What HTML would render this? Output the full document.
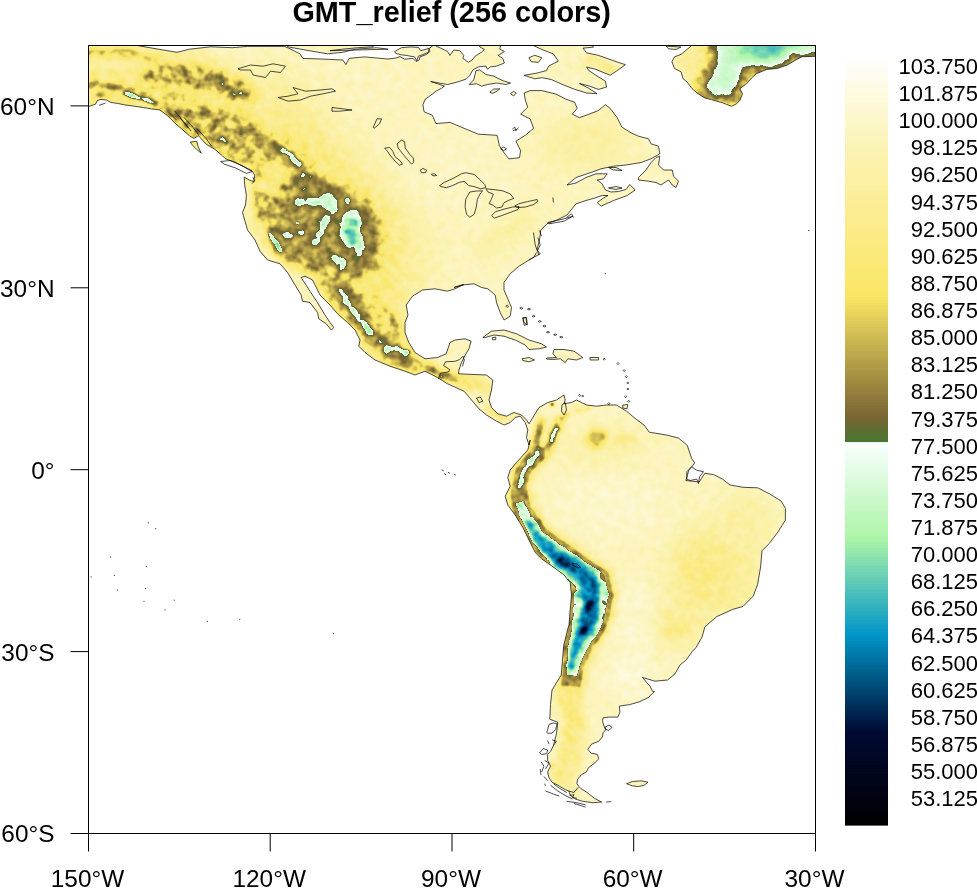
<!DOCTYPE html>
<html><head><meta charset="utf-8"><title>GMT_relief (256 colors)</title>
<style>
html,body{margin:0;padding:0;background:#fff;}
body{width:977px;height:888px;overflow:hidden;}
svg{display:block;font-family:"Liberation Sans",Arial,Helvetica,sans-serif;}
.ttl{font-weight:bold;font-size:28.8px;}
.cbl{font-size:22px;}
.axl{font-size:24.4px;}
.coast{fill:none;stroke:#000;stroke-width:0.7;stroke-linejoin:round;}
.lake{fill:none;stroke:#000;stroke-width:0.7;stroke-linejoin:round;}
</style></head><body>
<svg width="977" height="888" viewBox="0 0 977 888">
<defs>
<clipPath id="frame"><rect x="88.5" y="45.5" width="727.0" height="788.0"/></clipPath>
<clipPath id="land"><path d="M80,40 L137,40 L137.1,45.5 L158.6,49.2 L177,52.3 L189.3,49.2 L210.8,46.8 L232.3,47.7 L247.7,46.4 L284.5,46.4 L287.6,47.7 L299.9,53.8 L302.9,58.4 L321.3,59 L342.8,60 L345.9,64.6 L349,58.4 L364.3,56.9 L388,59 L395.4,58.1 L400,56.6 L404.6,59.2 L413,58.4 L416.1,61.5 L419.2,60 L419.9,56.9 L426.1,54.6 L429.9,51.5 L429.1,48.4 L432.2,46.4 L432.2,41.5 L436,41.5 L436,46.1 L441.4,48.4 L447.6,51.5 L449.9,55.4 L453.7,50 L459.8,50.7 L463.7,55.4 L462.9,58.4 L468.3,62.3 L472.1,60 L475.2,56.1 L481.3,52.3 L484.4,49.5 L479.8,46.9 L479,41.5 L501.3,41.5 L499.8,49.2 L504.4,51.5 L498.2,55.4 L502.8,58.4 L504.4,63 L496.7,66.1 L490.5,66.9 L487.5,69.2 L485.9,66.1 L478.3,66.9 L472.9,69.9 L469.8,75.3 L466,79.2 L456.8,82.2 L447.6,84.5 L430.7,81.5 L444.5,86.1 L441.4,88.4 L436.8,90.7 L430.7,95.3 L425.3,99.1 L422.9,104.7 L424.1,111.8 L432.4,115.3 L435.9,123.6 L450,122.4 L464.1,128.3 L478.3,134.2 L497.1,135.3 L499.5,145.9 L504.2,153 L508.9,158.9 L519.5,157.7 L520.6,150.6 L515.9,141.2 L525.3,135.3 L533.6,128.3 L530.1,118.9 L520.6,114.2 L527.7,107.1 L525.3,100 L524.2,93 L530.1,90.6 L541.8,90.6 L556,94.1 L565.4,98.9 L574.8,102.4 L577.1,108.3 L572.4,114.2 L579.5,117.7 L588.9,114.2 L598.3,110.6 L605.4,104.7 L610.1,108.3 L617.2,117.7 L621.9,127.1 L631.3,133 L638.5,136.2 L648.5,138.8 L651,143.8 L658.5,146.2 L659.8,153.8 L651,158.8 L641,162.5 L626,165 L613.5,166.2 L601,168.8 L591,172.5 L576,177.5 L567,185 L576,183 L586,177.5 L596,173.8 L607.2,173.8 L603.5,178.8 L597.2,180 L602.2,183.8 L605.5,190 L611,192 L618.5,191.5 L626,189.5 L629.8,184.5 L635.2,190 L627.2,195.5 L613.5,200.5 L601,206.2 L597.2,202.5 L603.5,198 L608,195.5 L602.2,195.5 L594.8,198 L586,200.5 L576,203.8 L567,215 L557,220 L547,223.8 L540.8,230 L539.5,240 L537,250 L540.2,253.8 L529,260 L519,266.2 L510.2,273.8 L504,282.5 L504,290 L507.8,298.8 L511.5,307.5 L510.2,316.2 L504,320 L500.2,312.5 L496.5,302.5 L495.2,295 L487.8,288.8 L481.5,287.5 L474,283.8 L461.5,285 L454,287.5 L463.8,284.5 L455,288.8 L447.5,291.2 L435,288.8 L422.5,290 L412.5,296.2 L406.2,305 L408,315 L405,322.5 L405,332.5 L408.8,342.5 L415,352.5 L425,358.8 L437.5,357.5 L446.2,353.8 L450,342.5 L455,340 L465,338.8 L471.2,341.2 L471,341.2 L469,348.8 L465.2,355 L461.5,362.5 L459,370 L458.5,373.8 L474,374.5 L486.5,375 L492.8,380 L491.5,390 L489,400 L491.5,407.5 L497.8,413.8 L506.5,416.2 L514,412.5 L521.5,415 L526.5,420 L529,423.8 L532.8,417.5 L539,407.5 L547.8,402.5 L556.5,400 L564,395 L565.2,400 L564,403.8 L571.5,402.5 L576.5,400 L586.5,405 L596.5,406.2 L606.5,405 L616.5,405 L626.5,411.2 L634,417.5 L644,425 L649.3,432.2 L666.9,435.1 L678.6,438.1 L687.3,445.4 L691.7,458.6 L694.7,463 L688.8,470.3 L685.9,480.5 L699.1,482 L704.9,473.2 L713.7,474.7 L722.5,479.1 L729.8,484.9 L743,487.3 L757.6,487.8 L769.3,493.7 L781.1,501 L785.4,508.3 L785.4,520.1 L778.1,531.8 L769.3,543.5 L762,550.8 L760.6,566.9 L757.6,584.5 L753.2,596.2 L743,606.4 L732.7,609.4 L716.6,616.7 L704.9,626.9 L702,637.2 L696.1,647.4 L692.5,651.2 L686.2,660 L680,665 L675,673.8 L667.5,680 L655,681.2 L642.5,677.5 L650,686.2 L652.5,691.2 L654.5,691.5 L648.6,697.3 L639.8,701.7 L629.6,704.6 L619.3,706.1 L620,712 L617.8,717.1 L609.1,717.1 L603.2,717.8 L602.5,720.7 L603.9,725.9 L606.1,729.5 L603.2,732.5 L602.5,736.9 L598.8,741.2 L591.5,744.2 L587.8,749.3 L590.8,753 L597.3,754.4 L598.8,758.8 L594.4,763.2 L588.6,767.6 L586.4,772 L581.2,774.9 L577.6,779.3 L576.9,783.7 L579,786.6 L581.2,788.8 L587.1,792.5 L594.4,798.3 L601.7,802 L593,802.7 L582.7,801.3 L575.4,799.1 L570.3,795.4 L568.8,791 L565.1,789.6 L557.8,785.2 L552,782.2 L549,777.8 L547.6,772 L550.5,766.1 L547.6,760.3 L547.6,754.4 L550.5,751.5 L553.4,745.6 L556.4,733.9 L557.8,722.2 L549.8,719.3 L550.5,704.6 L552,690 L561.2,675 L562.5,660 L563.8,645 L567.5,630 L569,625 L570.2,610 L571.5,595 L570.2,582.5 L564,575 L554,567.5 L541.5,558.8 L535.2,552.5 L529,540 L522.8,527.5 L515.2,515 L507.8,505 L505.2,496.2 L510.2,486.2 L507.8,477.5 L510.2,470 L516.5,462.5 L527.8,450 L530.2,440 L529,445 L526.5,437.5 L527.8,430 L525.2,422.5 L520.2,416.2 L515.2,417.5 L510.2,422.5 L504,425 L496.5,421.2 L486.5,415 L479,408.8 L471.5,400 L464,391.2 L447.5,383.8 L437.5,377.5 L425,371.2 L415,375 L405,371.2 L390,366.2 L375,360 L365,352.5 L358.8,346.2 L360,340 L355,330 L347.5,322.5 L337.5,313.8 L330,305 L320,295 L312.5,280 L305,276.2 L301.2,277.5 L310,291.2 L317.5,302.5 L325,315 L330,322.5 L333.8,327.5 L331.2,330 L326.2,323.8 L318.8,318.8 L317.5,312.5 L310,302.5 L302.5,301.2 L301.2,295 L295,285 L287.5,272.5 L280,263.8 L267.5,260 L260,251.2 L255,240 L247.5,230 L242.5,212.5 L245.5,204.9 L246.4,195.5 L244.6,184.5 L244.2,177.1 L249.2,179.9 L253.8,181.7 L254.7,175.3 L252,170.7 L244.6,167 L235.4,162.4 L225.3,158.7 L222.5,155.9 L215.1,149.5 L205.9,144 L198.5,135.7 L193.9,138.4 L189.3,135.7 L182,129.2 L174.6,122.8 L167.2,115.4 L159.8,109.9 L151.6,108.9 L143.3,107.5 L134.1,106.2 L124.8,104.9 L117.5,103.4 L111,102.5 L106.4,100.1 L100.9,99.4 L97.2,100.7 L95.4,104.3 L88,106.7 L69.6,106.7 L69.6,29.7Z"/><path d="M287.6,40 L287.6,46.8 L309.1,50.7 L327.5,53.8 L342.8,52.3 L355.1,49.2 L376.6,47.7 L388,49.2 L330,50.7 L342.3,49.2 L357.6,47.7 L373,46.8 L379.1,40ZM394.6,51.5 L401.5,47.7 L410.7,46.9 L418.4,47.4 L420.7,50.7 L426.1,49.2 L429.1,48.4 L428.4,52.3 L423,54.6 L418.4,56.1 L416.8,60.7 L414.5,56.9 L406.1,55.4 L400,54.6 L395.4,53.1ZM469.1,84.5 L473.7,79.9 L476,70.7 L479.8,69.9 L485.9,74.5 L493.6,76.1 L502.8,80.7 L510.5,83 L505.9,84.5 L496.7,83 L487.5,84.5 L481.3,86.1 L476.7,83.8ZM489.8,92.2 L493.6,89.1 L499.8,88.8 L496.7,91.4 L492.1,93.4ZM510.5,93.7 L513.6,91.4 L516.3,93 L513.6,96ZM532.4,42.4 L532.4,45.2 L541.8,49.4 L553.6,54.1 L558.3,61.2 L548.9,65.9 L546.5,70.6 L537.1,73 L524.2,75.3 L534.8,78.8 L541.8,77.7 L551.2,79.5 L563,84.7 L574.8,89.4 L586.6,93 L597.1,93.7 L588.9,88.3 L579.5,83.5 L588.9,85.9 L598.3,89.4 L606.6,87.1 L605.4,81.2 L596,75.3 L588.9,70.6 L586.6,67.1 L596,69.4 L610.1,75.3 L617.2,70.6 L625.4,64.7 L614.8,61.2 L598.3,55.3 L586.6,52.9 L583,48.2 L593.6,47.1 L588.9,42.4ZM528.9,57.7 L534.8,55.3 L541.8,57.7 L538.3,62.4 L531.2,61.7ZM692.1,40 L691.3,45.9 L686.2,50.1 L681.2,54.3 L674.5,56.8 L671.9,61.8 L674.5,68.5 L681.2,71.9 L682.9,78.6 L687.1,82 L692.1,88.7 L698,93.7 L704.7,97.9 L711.4,99.6 L723.1,103 L731.5,106.3 L736.6,103.8 L739.9,100.4 L742.5,93.7 L739.9,88.7 L746.6,83.6 L751.7,77.8 L756.7,73.6 L766.8,69.4 L776.9,68.5 L786.9,65.2 L797,59.3 L802,56.8 L822.2,55.9 L822.2,40ZM666,46.2 L681,47 L676,49.5 L668.5,48.8ZM638.5,177.5 L646,170 L651,162.5 L656,157.5 L659.8,156.2 L658.5,165 L663.5,170 L672.2,170 L673.5,176.2 L678.5,181.2 L676,187.5 L672.2,185 L668.5,180 L661,185 L656,182.5 L648.5,181.2 L638.5,180ZM608.5,167.5 L616,167.5 L622.2,170.5 L613.5,170ZM608.5,188 L616,186.5 L622.2,188 L616,189.5ZM482.8,337.5 L491.5,331.2 L504,330 L516.5,333.8 L529,340 L541.5,343.8 L546.5,347 L539,348.8 L529,349.5 L525.2,345 L515.2,340 L504,336.2 L494,335 L485.2,337.5ZM522,358.8 L529,357.5 L534.5,360 L529,361.8 L522.8,360.5ZM546.5,358 L556.5,357.5 L552.8,353.8 L554,349.5 L564,349.5 L574,351.2 L582.8,357.5 L576.5,360 L567.8,358.8 L565.2,362.5 L560.2,358.8 L552.8,359.5 L546.5,359ZM589.8,357.5 L598.5,357.5 L598.5,360 L590.2,360ZM522.8,317.5 L526.5,317.5 L527.2,325 L524,322.5ZM622.8,405 L627.8,404.5 L627,408.8 L622.8,408ZM626.6,783.7 L632.5,781.5 L641.3,780.8 L647.9,782.2 L644.2,785.2 L638.3,786.6 L632.5,785.9ZM190.2,142.1 L196.7,141.2 L198.5,147.6 L201.3,153.2 L196.7,149.5 L193,145.8Z"/></clipPath>
<filter id="cm" x="0" y="0" width="977" height="888" filterUnits="userSpaceOnUse" color-interpolation-filters="sRGB">
<feColorMatrix in="SourceGraphic" type="matrix" values="1 0 0 0 0 1 0 0 0 0 1 0 0 0 0 0 0 0 0 1" result="F"/>
<feColorMatrix in="SourceGraphic" type="matrix" values="0 1 0 0 0 0 1 0 0 0 0 1 0 0 0 0 0 0 0 1" result="A"/>
<feTurbulence type="fractalNoise" baseFrequency="0.11" numOctaves="2" seed="7" result="t"/>
<feColorMatrix in="t" type="matrix" values="1 0 0 0 0 1 0 0 0 0 1 0 0 0 0 0 0 0 0 1" result="N"/>
<feComposite in="A" in2="N" operator="arithmetic" k1="1" k2="-0.5" k3="0" k4="0.5" result="D"/>
<feComposite in="F" in2="D" operator="arithmetic" k1="0" k2="1" k3="1" k4="-0.5"/>
<feComponentTransfer>
<feFuncR type="table" tableValues="0.000 0.000 0.000 0.000 0.000 0.000 0.000 0.000 0.000 0.000 0.000 0.000 0.000 0.000 0.000 0.000 0.000 0.000 0.000 0.000 0.000 0.000 0.000 0.000 0.000 0.000 0.000 0.000 0.000 0.000 0.000 0.000 0.000 0.000 0.000 0.000 0.000 0.000 0.000 0.000 0.000 0.000 0.000 0.000 0.000 0.000 0.000 0.000 0.000 0.000 0.000 0.000 0.000 0.000 0.000 0.000 0.000 0.000 0.000 0.000 0.000 0.000 0.000 0.000 0.000 0.021 0.042 0.063 0.084 0.105 0.126 0.148 0.169 0.190 0.211 0.232 0.253 0.274 0.295 0.316 0.337 0.358 0.379 0.400 0.422 0.443 0.464 0.485 0.506 0.527 0.548 0.569 0.590 0.611 0.632 0.653 0.675 0.684 0.694 0.703 0.713 0.722 0.732 0.741 0.751 0.761 0.770 0.780 0.789 0.799 0.808 0.818 0.827 0.837 0.847 0.856 0.866 0.875 0.885 0.894 0.904 0.913 0.923 0.933 0.942 0.952 0.961 0.971 0.980 0.299 0.324 0.348 0.373 0.397 0.422 0.446 0.471 0.483 0.496 0.509 0.522 0.534 0.547 0.560 0.573 0.585 0.598 0.611 0.624 0.636 0.649 0.662 0.675 0.687 0.700 0.713 0.725 0.738 0.751 0.764 0.776 0.789 0.802 0.815 0.827 0.840 0.853 0.866 0.878 0.891 0.904 0.917 0.929 0.942 0.955 0.968 0.980 0.980 0.980 0.980 0.980 0.980 0.980 0.980 0.980 0.980 0.980 0.980 0.980 0.980 0.980 0.980 0.980 0.981 0.981 0.982 0.982 0.983 0.983 0.984 0.984 0.985 0.985 0.986 0.986 0.987 0.987 0.988 0.988 0.988 0.988 0.988 0.988 0.988 0.988 0.988 0.988 0.988 0.988 0.988 0.988 0.988 0.988 0.988 0.988 0.988 0.989 0.989 0.989 0.989 0.990 0.990 0.990 0.990 0.991 0.991 0.991 0.991 0.992 0.992 0.992 0.993 0.993 0.994 0.994 0.995 0.995 0.996 0.996 0.997 0.997 0.998 0.998 0.999 0.999 1.000 1.000"/>
<feFuncG type="table" tableValues="0.000 0.001 0.002 0.004 0.005 0.006 0.007 0.009 0.010 0.011 0.012 0.013 0.015 0.016 0.017 0.018 0.020 0.021 0.022 0.023 0.025 0.026 0.027 0.028 0.029 0.031 0.032 0.033 0.034 0.036 0.037 0.038 0.039 0.056 0.074 0.091 0.108 0.125 0.142 0.159 0.176 0.194 0.211 0.228 0.245 0.262 0.279 0.297 0.314 0.331 0.348 0.365 0.382 0.400 0.417 0.434 0.451 0.468 0.485 0.502 0.520 0.537 0.554 0.571 0.588 0.600 0.611 0.623 0.634 0.646 0.657 0.669 0.680 0.692 0.703 0.715 0.726 0.738 0.750 0.761 0.773 0.784 0.796 0.808 0.820 0.831 0.843 0.855 0.867 0.878 0.890 0.902 0.914 0.925 0.937 0.949 0.961 0.962 0.963 0.964 0.966 0.967 0.968 0.969 0.971 0.972 0.973 0.974 0.975 0.977 0.978 0.979 0.980 0.982 0.983 0.984 0.985 0.987 0.988 0.989 0.990 0.991 0.993 0.994 0.995 0.996 0.998 0.999 1.000 0.461 0.451 0.441 0.431 0.422 0.412 0.402 0.392 0.405 0.418 0.430 0.443 0.456 0.469 0.481 0.494 0.507 0.520 0.532 0.545 0.558 0.571 0.583 0.596 0.609 0.622 0.634 0.647 0.660 0.673 0.685 0.698 0.711 0.724 0.736 0.749 0.762 0.775 0.787 0.800 0.813 0.825 0.838 0.851 0.864 0.876 0.889 0.902 0.903 0.904 0.905 0.906 0.907 0.908 0.909 0.910 0.911 0.912 0.913 0.914 0.915 0.916 0.917 0.918 0.919 0.920 0.921 0.922 0.923 0.924 0.925 0.925 0.926 0.927 0.928 0.929 0.930 0.931 0.932 0.933 0.935 0.936 0.937 0.938 0.939 0.941 0.942 0.943 0.944 0.946 0.947 0.948 0.949 0.950 0.952 0.953 0.954 0.956 0.957 0.959 0.960 0.962 0.963 0.965 0.966 0.968 0.969 0.971 0.972 0.974 0.975 0.976 0.978 0.979 0.981 0.982 0.984 0.985 0.987 0.988 0.990 0.991 0.993 0.994 0.996 0.997 0.999 1.000"/>
<feFuncB type="table" tableValues="0.000 0.006 0.012 0.018 0.025 0.031 0.037 0.043 0.049 0.055 0.061 0.067 0.074 0.080 0.086 0.092 0.098 0.104 0.110 0.116 0.123 0.129 0.135 0.141 0.147 0.153 0.159 0.165 0.172 0.178 0.184 0.190 0.196 0.214 0.233 0.251 0.270 0.288 0.306 0.325 0.343 0.362 0.380 0.398 0.417 0.435 0.453 0.472 0.490 0.509 0.527 0.545 0.564 0.582 0.600 0.619 0.637 0.656 0.674 0.692 0.711 0.729 0.748 0.766 0.784 0.780 0.776 0.773 0.769 0.765 0.761 0.757 0.753 0.749 0.745 0.741 0.737 0.733 0.729 0.725 0.722 0.718 0.714 0.710 0.706 0.702 0.698 0.694 0.690 0.686 0.682 0.678 0.675 0.671 0.667 0.663 0.659 0.669 0.680 0.690 0.701 0.712 0.722 0.733 0.743 0.754 0.764 0.775 0.785 0.796 0.806 0.817 0.827 0.838 0.849 0.860 0.871 0.881 0.892 0.903 0.914 0.925 0.935 0.946 0.957 0.968 0.978 0.989 1.000 0.196 0.196 0.196 0.196 0.196 0.196 0.196 0.196 0.201 0.206 0.211 0.216 0.221 0.225 0.230 0.235 0.240 0.245 0.250 0.255 0.260 0.265 0.270 0.275 0.279 0.284 0.289 0.294 0.299 0.304 0.309 0.314 0.319 0.324 0.328 0.333 0.338 0.343 0.348 0.353 0.358 0.363 0.368 0.373 0.377 0.382 0.387 0.392 0.399 0.405 0.411 0.418 0.424 0.430 0.437 0.443 0.450 0.456 0.462 0.469 0.475 0.481 0.488 0.494 0.500 0.507 0.513 0.520 0.526 0.532 0.539 0.545 0.551 0.558 0.564 0.571 0.577 0.583 0.590 0.596 0.602 0.608 0.614 0.621 0.627 0.633 0.639 0.645 0.651 0.657 0.663 0.670 0.676 0.682 0.688 0.694 0.704 0.713 0.723 0.732 0.742 0.751 0.761 0.771 0.780 0.790 0.799 0.809 0.818 0.828 0.838 0.847 0.857 0.866 0.876 0.885 0.895 0.904 0.914 0.924 0.933 0.943 0.952 0.962 0.971 0.981 0.990 1.000"/>
</feComponentTransfer>
</filter>
<filter id="b0_7" x="0" y="0" width="977" height="888" filterUnits="userSpaceOnUse" color-interpolation-filters="sRGB"><feGaussianBlur stdDeviation="0.7"/></filter>
<filter id="b0_8" x="0" y="0" width="977" height="888" filterUnits="userSpaceOnUse" color-interpolation-filters="sRGB"><feGaussianBlur stdDeviation="0.8"/></filter>
<filter id="b0_9" x="0" y="0" width="977" height="888" filterUnits="userSpaceOnUse" color-interpolation-filters="sRGB"><feGaussianBlur stdDeviation="0.9"/></filter>
<filter id="b1" x="0" y="0" width="977" height="888" filterUnits="userSpaceOnUse" color-interpolation-filters="sRGB"><feGaussianBlur stdDeviation="1"/></filter>
<filter id="b1_1" x="0" y="0" width="977" height="888" filterUnits="userSpaceOnUse" color-interpolation-filters="sRGB"><feGaussianBlur stdDeviation="1.1"/></filter>
<filter id="b1_2" x="0" y="0" width="977" height="888" filterUnits="userSpaceOnUse" color-interpolation-filters="sRGB"><feGaussianBlur stdDeviation="1.2"/></filter>
<filter id="b1_3" x="0" y="0" width="977" height="888" filterUnits="userSpaceOnUse" color-interpolation-filters="sRGB"><feGaussianBlur stdDeviation="1.3"/></filter>
<filter id="b1_4" x="0" y="0" width="977" height="888" filterUnits="userSpaceOnUse" color-interpolation-filters="sRGB"><feGaussianBlur stdDeviation="1.4"/></filter>
<filter id="b1_5" x="0" y="0" width="977" height="888" filterUnits="userSpaceOnUse" color-interpolation-filters="sRGB"><feGaussianBlur stdDeviation="1.5"/></filter>
<filter id="b1_6" x="0" y="0" width="977" height="888" filterUnits="userSpaceOnUse" color-interpolation-filters="sRGB"><feGaussianBlur stdDeviation="1.6"/></filter>
<filter id="b1_8" x="0" y="0" width="977" height="888" filterUnits="userSpaceOnUse" color-interpolation-filters="sRGB"><feGaussianBlur stdDeviation="1.8"/></filter>
<filter id="b2" x="0" y="0" width="977" height="888" filterUnits="userSpaceOnUse" color-interpolation-filters="sRGB"><feGaussianBlur stdDeviation="2"/></filter>
<filter id="b2_2" x="0" y="0" width="977" height="888" filterUnits="userSpaceOnUse" color-interpolation-filters="sRGB"><feGaussianBlur stdDeviation="2.2"/></filter>
<filter id="b2_5" x="0" y="0" width="977" height="888" filterUnits="userSpaceOnUse" color-interpolation-filters="sRGB"><feGaussianBlur stdDeviation="2.5"/></filter>
<filter id="b2_8" x="0" y="0" width="977" height="888" filterUnits="userSpaceOnUse" color-interpolation-filters="sRGB"><feGaussianBlur stdDeviation="2.8"/></filter>
<filter id="b3" x="0" y="0" width="977" height="888" filterUnits="userSpaceOnUse" color-interpolation-filters="sRGB"><feGaussianBlur stdDeviation="3"/></filter>
<filter id="b3_5" x="0" y="0" width="977" height="888" filterUnits="userSpaceOnUse" color-interpolation-filters="sRGB"><feGaussianBlur stdDeviation="3.5"/></filter>
<filter id="b4" x="0" y="0" width="977" height="888" filterUnits="userSpaceOnUse" color-interpolation-filters="sRGB"><feGaussianBlur stdDeviation="4"/></filter>
<filter id="b4_5" x="0" y="0" width="977" height="888" filterUnits="userSpaceOnUse" color-interpolation-filters="sRGB"><feGaussianBlur stdDeviation="4.5"/></filter>
<filter id="b5" x="0" y="0" width="977" height="888" filterUnits="userSpaceOnUse" color-interpolation-filters="sRGB"><feGaussianBlur stdDeviation="5"/></filter>
<filter id="b6" x="0" y="0" width="977" height="888" filterUnits="userSpaceOnUse" color-interpolation-filters="sRGB"><feGaussianBlur stdDeviation="6"/></filter>
<filter id="b7" x="0" y="0" width="977" height="888" filterUnits="userSpaceOnUse" color-interpolation-filters="sRGB"><feGaussianBlur stdDeviation="7"/></filter>
<filter id="b8" x="0" y="0" width="977" height="888" filterUnits="userSpaceOnUse" color-interpolation-filters="sRGB"><feGaussianBlur stdDeviation="8"/></filter>
<filter id="b9" x="0" y="0" width="977" height="888" filterUnits="userSpaceOnUse" color-interpolation-filters="sRGB"><feGaussianBlur stdDeviation="9"/></filter>
<filter id="b10" x="0" y="0" width="977" height="888" filterUnits="userSpaceOnUse" color-interpolation-filters="sRGB"><feGaussianBlur stdDeviation="10"/></filter>
<filter id="b12" x="0" y="0" width="977" height="888" filterUnits="userSpaceOnUse" color-interpolation-filters="sRGB"><feGaussianBlur stdDeviation="12"/></filter>
<filter id="b15" x="0" y="0" width="977" height="888" filterUnits="userSpaceOnUse" color-interpolation-filters="sRGB"><feGaussianBlur stdDeviation="15"/></filter>
<filter id="b16" x="0" y="0" width="977" height="888" filterUnits="userSpaceOnUse" color-interpolation-filters="sRGB"><feGaussianBlur stdDeviation="16"/></filter>
<filter id="b20" x="0" y="0" width="977" height="888" filterUnits="userSpaceOnUse" color-interpolation-filters="sRGB"><feGaussianBlur stdDeviation="20"/></filter>
</defs>
<rect width="977" height="888" fill="#fff"/>
<text class="ttl" x="451.7" y="21.7" text-anchor="middle">GMT_relief (256 colors)</text>
<g clip-path="url(#frame)">
<g clip-path="url(#land)">
<g filter="url(#cm)">
<rect x="0" y="0" width="977" height="888" fill="#e41400"/>
<path d="M80,40 L140,40 L200,55 L250,80 L280,115 L305,150 L325,185 L300,200 L250,180 L200,150 L150,115 L80,115Z" fill="#c43200" opacity="1" filter="url(#b8)"/>
<path d="M275,110 L315,160 L350,190 L385,220 L392,270 L385,310" fill="none" stroke="#cf2300" stroke-width="70" stroke-linecap="round" stroke-linejoin="round" opacity="1" filter="url(#b16)"/>
<path d="M290,140 L330,185 L370,215 L378,260 L372,300" fill="none" stroke="#bd3e00" stroke-width="40" stroke-linecap="round" stroke-linejoin="round" opacity="1" filter="url(#b10)"/>
<path d="M86,53 L110,51 L135,54 L150,60" fill="none" stroke="#b24d00" stroke-width="7" stroke-linecap="round" stroke-linejoin="round" opacity="1" filter="url(#b2_2)"/>
<path d="M86,53 L105,51.5 L125,50.5 L140,53" fill="none" stroke="#9c4c00" stroke-width="3.5" stroke-linecap="round" stroke-linejoin="round" opacity="1" filter="url(#b1_2)"/>
<path d="M86,66 L120,64 L150,68" fill="none" stroke="#db1400" stroke-width="6" stroke-linecap="round" stroke-linejoin="round" opacity="1" filter="url(#b3)"/>
<path d="M92,86 L115,89 L140,94 L160,100 L180,106" fill="none" stroke="#ad6b00" stroke-width="10" stroke-linecap="round" stroke-linejoin="round" opacity="1" filter="url(#b3)"/>
<path d="M90,84 L112,86 L128,90" fill="none" stroke="#9d4700" stroke-width="5" stroke-linecap="round" stroke-linejoin="round" opacity="1" filter="url(#b1_8)"/>
<path d="M96,95 L108,97" fill="none" stroke="#9e6b00" stroke-width="4" stroke-linecap="round" stroke-linejoin="round" opacity="1" filter="url(#b1_5)"/>
<path d="M125,93 L140,98 L156,103" fill="none" stroke="#6e5c00" stroke-width="5" stroke-linecap="round" stroke-linejoin="round" opacity="1" filter="url(#b1_2)"/>
<path d="M151,76 L185,75 L215,80 L245,95" fill="none" stroke="#a86b00" stroke-width="24" stroke-linecap="round" stroke-linejoin="round" opacity="1" filter="url(#b4_5)"/>
<path d="M178,76 L203,80 L222,84 L240,92" fill="none" stroke="#946b00" stroke-width="12" stroke-linecap="round" stroke-linejoin="round" opacity="1" filter="url(#b3)"/>
<path d="M205,113 L230,118 L252,128" fill="none" stroke="#9e6b00" stroke-width="14" stroke-linecap="round" stroke-linejoin="round" opacity="1" filter="url(#b3_5)"/>
<path d="M212,115 L235,120" fill="none" stroke="#916b00" stroke-width="6" stroke-linecap="round" stroke-linejoin="round" opacity="1" filter="url(#b2)"/>
<path d="M168,110 L195,122 L225,140 L255,160" fill="none" stroke="#ad6b00" stroke-width="36" stroke-linecap="round" stroke-linejoin="round" opacity="1" filter="url(#b6)"/>
<path d="M175,112 L205,128 L232,145" fill="none" stroke="#9c6b00" stroke-width="12" stroke-linecap="round" stroke-linejoin="round" opacity="1" filter="url(#b3)"/>
<path d="M200,112 L225,128 L248,150" fill="none" stroke="#9c6b00" stroke-width="10" stroke-linecap="round" stroke-linejoin="round" opacity="1" filter="url(#b3)"/>
<path d="M252,132 L275,148 L297,165 L311,185" fill="none" stroke="#9c6b00" stroke-width="18" stroke-linecap="round" stroke-linejoin="round" opacity="1" filter="url(#b3_5)"/>
<path d="M268,143 L285,155 L299,166" fill="none" stroke="#8e3300" stroke-width="9" stroke-linecap="round" stroke-linejoin="round" opacity="1" filter="url(#b2)"/>
<path d="M284.5,151 L292,157 L300,163.5" fill="none" stroke="#6e5c00" stroke-width="4.5" stroke-linecap="round" stroke-linejoin="round" opacity="1" filter="url(#b1)"/>
<path d="M253,178 L256,195 L260,212" fill="none" stroke="#a86b00" stroke-width="7" stroke-linecap="round" stroke-linejoin="round" opacity="1" filter="url(#b2_5)"/>
<path d="M258,190 L300,176 L339,186 L374,203 L382,240 L378,268 L350,282 L318,278 L290,266 L268,250 L254,222Z" fill="#9f6b00" opacity="1" filter="url(#b6)"/>
<path d="M280,200 L300,184 L340,190 L370,210 L375,255 L352,272 L320,270 L290,256 L274,228Z" fill="#964500" opacity="1" filter="url(#b4)"/>
<path d="M297,182 L320,185 L339,195" fill="none" stroke="#8c2b00" stroke-width="12" stroke-linecap="round" stroke-linejoin="round" opacity="1" filter="url(#b2_5)"/>
<path d="M345,205 L366,215 L372,240 L368,262 L350,270" fill="none" stroke="#8c2b00" stroke-width="9" stroke-linecap="round" stroke-linejoin="round" opacity="1" filter="url(#b2_5)"/>
<path d="M325,215 L310,245" fill="none" stroke="#8e2b00" stroke-width="12" stroke-linecap="round" stroke-linejoin="round" opacity="1" filter="url(#b2_5)"/>
<path d="M298.6,202.1 L311.9,201.6 L322.1,200" fill="none" stroke="#8b2e00" stroke-width="14" stroke-linecap="round" stroke-linejoin="round" opacity="1" filter="url(#b2_2)"/>
<path d="M322.1,195.5 L330.3,193.9 L336.4,199.6 L337.5,211.9 L333.4,216 L328.3,211.9 L323.1,205.7Z" fill="#8a2e00" opacity="1" filter="url(#b3)"/>
<path d="M322.1,195.5 L330.3,193.9 L336.4,199.6 L337.5,211.9 L333.4,216 L328.3,211.9 L323.1,205.7 L322.1,195.5" fill="none" stroke="#8a2e00" stroke-width="8" stroke-linecap="round" stroke-linejoin="round" opacity="1" filter="url(#b2_2)"/>
<path d="M328.3,216 L323.1,228.3 L316,241.6" fill="none" stroke="#8b2e00" stroke-width="13" stroke-linecap="round" stroke-linejoin="round" opacity="1" filter="url(#b2_2)"/>
<path d="M341.6,216 L347.7,211.9 L356.9,210.9 L361,218 L361,232.4 L365.1,246.7 L359,254.9 L352.8,250.8 L344.6,244.6 L340.5,236.4 L342.6,226.2 L341.6,216" fill="none" stroke="#8a2e00" stroke-width="9" stroke-linecap="round" stroke-linejoin="round" opacity="1" filter="url(#b2_5)"/>
<path d="M332.4,257.9 L340.5,254.9 L346.7,261 L343.6,269.2 L336.4,267.2 L332.4,257.9" fill="none" stroke="#8b2e00" stroke-width="7" stroke-linecap="round" stroke-linejoin="round" opacity="1" filter="url(#b2)"/>
<path d="M269.9,235.4 L276.1,242.6 L280.2,250.4" fill="none" stroke="#8f3300" stroke-width="9" stroke-linecap="round" stroke-linejoin="round" opacity="1" filter="url(#b2)"/>
<ellipse cx="288.8" cy="235" rx="8" ry="5.5" fill="#8b2e00" opacity="1" filter="url(#b2_2)"/>
<ellipse cx="302" cy="233.5" rx="5" ry="4.5" fill="#8c2e00" opacity="1" filter="url(#b2)"/>
<path d="M298.6,202.1 L311.9,201.6 L322.1,200" fill="none" stroke="#735c00" stroke-width="6.5" stroke-linecap="round" stroke-linejoin="round" opacity="1" filter="url(#b1_1)"/>
<path d="M322.1,195.5 L330.3,193.9 L336.4,199.6 L337.5,211.9 L333.4,216 L328.3,211.9 L323.1,205.7Z" fill="#705c00" opacity="1" filter="url(#b1_2)"/>
<path d="M328.3,216 L323.1,228.3 L316,241.6" fill="none" stroke="#735c00" stroke-width="5.5" stroke-linecap="round" stroke-linejoin="round" opacity="1" filter="url(#b1_1)"/>
<path d="M341.6,216 L347.7,211.9 L356.9,210.9 L361,218 L361,232.4 L365.1,246.7 L359,254.9 L352.8,250.8 L344.6,244.6 L340.5,236.4 L342.6,226.2Z" fill="#755c00" opacity="1" filter="url(#b1_3)"/>
<path d="M344.6,220.1 L352.8,216 L357.9,222.1 L358.6,236.4 L361,246.7 L355.9,249.8 L348.7,242.6 L344.6,232.4Z" fill="#625c00" opacity="1" filter="url(#b1_6)"/>
<ellipse cx="351.8" cy="235.4" rx="4.5" ry="8.5" fill="#4f2600" opacity="1" transform="rotate(-20 351.8 235.4)" filter="url(#b1_6)"/>
<path d="M332.4,257.9 L340.5,254.9 L346.7,261 L343.6,269.2 L336.4,267.2Z" fill="#705c00" opacity="1" filter="url(#b1_1)"/>
<path d="M269.9,235.4 L276.1,242.6 L280.2,250.4" fill="none" stroke="#6e5c00" stroke-width="4" stroke-linecap="round" stroke-linejoin="round" opacity="1" filter="url(#b1_0)"/>
<ellipse cx="288.8" cy="235" rx="4.5" ry="2.2" fill="#735c00" opacity="1" filter="url(#b0_9)"/>
<ellipse cx="302" cy="233.4" rx="2.4" ry="1.8" fill="#735c00" opacity="1" filter="url(#b0_8)"/>
<ellipse cx="346.7" cy="201.6" rx="2.5" ry="3.5" fill="#705c00" opacity="1" filter="url(#b0_9)"/>
<ellipse cx="297.5" cy="223" rx="1.3" ry="1.3" fill="#735c00" opacity="1" filter="url(#b0_7)"/>
<path d="M246,190 L247,225 L258,245" fill="none" stroke="#db1400" stroke-width="6" stroke-linecap="round" stroke-linejoin="round" opacity="1" filter="url(#b2_5)"/>
<path d="M258,222 L266,238" fill="none" stroke="#e01400" stroke-width="4" stroke-linecap="round" stroke-linejoin="round" opacity="1" filter="url(#b2)"/>
<path d="M262,185 L275,192" fill="none" stroke="#cc2700" stroke-width="8" stroke-linecap="round" stroke-linejoin="round" opacity="1" filter="url(#b3)"/>
<path d="M332,282 L352,308 L375,335 L398,356" fill="none" stroke="#a36b00" stroke-width="30" stroke-linecap="round" stroke-linejoin="round" opacity="1" filter="url(#b6)"/>
<path d="M340,288 L358,312 L376,336" fill="none" stroke="#8c2e00" stroke-width="15" stroke-linecap="round" stroke-linejoin="round" opacity="1" filter="url(#b3)"/>
<path d="M341,291 L350,305 L362,322 L372,334" fill="none" stroke="#6e5c00" stroke-width="5" stroke-linecap="round" stroke-linejoin="round" opacity="1" filter="url(#b1_3)"/>
<path d="M365,300 L385,305 L402,325 L405,345 L385,342 L372,325Z" fill="#b06b00" opacity="1" filter="url(#b4)"/>
<path d="M390,315 L398,332" fill="none" stroke="#996b00" stroke-width="5" stroke-linecap="round" stroke-linejoin="round" opacity="1" filter="url(#b2)"/>
<path d="M378,338 L395,352 L412,364" fill="none" stroke="#8f4000" stroke-width="15" stroke-linecap="round" stroke-linejoin="round" opacity="1" filter="url(#b3)"/>
<path d="M387,350 L398,349 L407,353" fill="none" stroke="#6e5c00" stroke-width="5" stroke-linecap="round" stroke-linejoin="round" opacity="1" filter="url(#b1_3)"/>
<path d="M418,366 L430.7,369 L446,376 L467.5,384" fill="none" stroke="#a86b00" stroke-width="12" stroke-linecap="round" stroke-linejoin="round" opacity="1" filter="url(#b3)"/>
<path d="M428,368 L440,374 L452,379" fill="none" stroke="#964700" stroke-width="6" stroke-linecap="round" stroke-linejoin="round" opacity="1" filter="url(#b1_8)"/>
<ellipse cx="441.4" cy="376.7" rx="1.8" ry="1.5" fill="#735c00" opacity="1" filter="url(#b0_8)"/>
<path d="M467,378 L480,384 L489,390" fill="none" stroke="#c23600" stroke-width="14" stroke-linecap="round" stroke-linejoin="round" opacity="1" filter="url(#b4)"/>
<path d="M489,409 L496,414 L503,418" fill="none" stroke="#ad6b00" stroke-width="5" stroke-linecap="round" stroke-linejoin="round" opacity="1" filter="url(#b2)"/>
<path d="M509,420 L520,417" fill="none" stroke="#c23600" stroke-width="4" stroke-linecap="round" stroke-linejoin="round" opacity="1" filter="url(#b2)"/>
<path d="M480,250 L505,235 L530,215" fill="none" stroke="#d41c00" stroke-width="16" stroke-linecap="round" stroke-linejoin="round" opacity="1" filter="url(#b7)"/>
<path d="M560,150 L610,140" fill="none" stroke="#d91400" stroke-width="40" stroke-linecap="round" stroke-linejoin="round" opacity="1" filter="url(#b12)"/>
<ellipse cx="587" cy="142" rx="34" ry="20" fill="#d51a00" opacity="1" filter="url(#b9)"/>
<path d="M590,60 L615,75" fill="none" stroke="#c72f00" stroke-width="12" stroke-linecap="round" stroke-linejoin="round" opacity="1" filter="url(#b5)"/>
<ellipse cx="450" cy="170" rx="60" ry="40" fill="#e61400" opacity="1" filter="url(#b20)"/>
<path d="M686,40 L676,60 L686,77.5 L701,92.5 L716,102.5 L736,105 L746,90 L751,77.5 L776,67.5 L801,58.8 L819.8,55 L819.8,40Z" fill="#d12000" opacity="1" filter="url(#b3)"/>
<path d="M717.3,40 L718.1,56.8 L719,62.7 L713.9,70.2 L711.4,78.6 L706.4,86.2 L709.7,90.4 L716.4,93.7 L726.5,95.4 L731.5,94.6 L729.9,90.4 L736.6,85.3 L738.3,76.9 L739.9,71.9 L743.3,66 L750,64.8 L760.1,65.2 L773.5,65.2 L781.1,63.5 L785.3,58.5 L788.6,54.3 L792,50.9 L798.7,53.4 L802,55.1 L807.1,52.6 L822.2,52.6" fill="none" stroke="#b06b00" stroke-width="28" stroke-linecap="round" stroke-linejoin="round" opacity="1" filter="url(#b4_5)"/>
<path d="M717.3,40 L718.1,56.8 L719,62.7 L713.9,70.2 L711.4,78.6 L706.4,86.2 L709.7,90.4 L716.4,93.7 L726.5,95.4 L731.5,94.6 L729.9,90.4 L736.6,85.3 L738.3,76.9 L739.9,71.9 L743.3,66 L750,64.8 L760.1,65.2 L773.5,65.2 L781.1,63.5 L785.3,58.5 L788.6,54.3 L792,50.9 L798.7,53.4 L802,55.1 L807.1,52.6 L822.2,52.6" fill="none" stroke="#954000" stroke-width="17" stroke-linecap="round" stroke-linejoin="round" opacity="1" filter="url(#b2_8)"/>
<path d="M717.3,40 L718.1,56.8 L719,62.7 L713.9,70.2 L711.4,78.6 L706.4,86.2 L709.7,90.4 L716.4,93.7 L726.5,95.4 L731.5,94.6 L729.9,90.4 L736.6,85.3 L738.3,76.9 L739.9,71.9 L743.3,66 L750,64.8 L760.1,65.2 L773.5,65.2 L781.1,63.5 L785.3,58.5 L788.6,54.3 L792,50.9 L798.7,53.4 L802,55.1 L807.1,52.6 L822.2,52.6" fill="none" stroke="#881a00" stroke-width="7" stroke-linecap="round" stroke-linejoin="round" opacity="1" filter="url(#b1_3)"/>
<path d="M717.3,40 L718.1,56.8 L719,62.7 L713.9,70.2 L711.4,78.6 L706.4,86.2 L709.7,90.4 L716.4,93.7 L726.5,95.4 L731.5,94.6 L729.9,90.4 L736.6,85.3 L738.3,76.9 L739.9,71.9 L743.3,66 L750,64.8 L760.1,65.2 L773.5,65.2 L781.1,63.5 L785.3,58.5 L788.6,54.3 L792,50.9 L798.7,53.4 L802,55.1 L807.1,52.6 L822.2,52.6 L822.2,40Z" fill="#781a00" filter="url(#b0_8)"/>
<path d="M723.1,40 L724,61.8 L719.8,71.9 L714.8,83.6 L718.1,88.7 L726.5,90.4 L731.5,83.6 L734.9,73.6 L739.9,63.5 L750,61 L773.5,61 L780.2,56.8 L786.9,48.4 L800.4,49.2 L822.2,48.4 L822.2,40Z" fill="#6b1400" filter="url(#b3)"/>
<path d="M734.9,40 L738.3,53.4 L750,59.3 L773.5,59.3 L783.6,53.4 L795.3,46.7 L807.1,45 L807.1,40Z" fill="#591400" filter="url(#b3_5)"/>
<path d="M750,40 L753.4,51.8 L770.2,55.9 L783.6,50.1 L790.3,40Z" fill="#501400" filter="url(#b3)"/>
<ellipse cx="610" cy="500" rx="55" ry="35" fill="#e91400" opacity="1" filter="url(#b15)"/>
<ellipse cx="715" cy="575" rx="45" ry="50" fill="#cc2700" opacity="1" transform="rotate(20 715 575)" filter="url(#b16)"/>
<ellipse cx="745" cy="520" rx="25" ry="25" fill="#d41c00" opacity="1" filter="url(#b10)"/>
<ellipse cx="700" cy="570" rx="20" ry="28" fill="#c33400" opacity="1" filter="url(#b8)"/>
<ellipse cx="677" cy="627" rx="20" ry="17" fill="#c63000" opacity="1" filter="url(#b8)"/>
<ellipse cx="632" cy="620" rx="20" ry="40" fill="#e91400" opacity="1" filter="url(#b10)"/>
<ellipse cx="600" cy="448" rx="45" ry="20" fill="#db1400" opacity="1" filter="url(#b9)"/>
<ellipse cx="596.5" cy="438" rx="12" ry="10" fill="#b84500" opacity="1" filter="url(#b3)"/>
<ellipse cx="596.5" cy="438" rx="9" ry="8" fill="#a12600" opacity="1" filter="url(#b2_2)"/>
<ellipse cx="625" cy="439" rx="12" ry="5" fill="#c23600" opacity="1" filter="url(#b4)"/>
<ellipse cx="632" cy="675" rx="22" ry="25" fill="#ed1400" opacity="1" filter="url(#b9)"/>
<path d="M568,700 L575,722 L572,760 L560,790" fill="none" stroke="#cc2700" stroke-width="20" stroke-linecap="round" stroke-linejoin="round" opacity="1" filter="url(#b5)"/>
<path d="M568,700 L571,722 L567,750 L558,775" fill="none" stroke="#be3c00" stroke-width="9" stroke-linecap="round" stroke-linejoin="round" opacity="1" filter="url(#b3)"/>
<path d="M572,712 L582,726" fill="none" stroke="#ba4100" stroke-width="9" stroke-linecap="round" stroke-linejoin="round" opacity="1" filter="url(#b3_5)"/>
<ellipse cx="553" cy="767" rx="3" ry="3" fill="#ad6b00" opacity="1" filter="url(#b1_5)"/>
<path d="M541,422 L539.7,427.4 L536.6,439.7 L533,452" fill="none" stroke="#a36b00" stroke-width="9" stroke-linecap="round" stroke-linejoin="round" opacity="1" filter="url(#b2_2)"/>
<path d="M540,428 L537,440 L534,450" fill="none" stroke="#8f2e00" stroke-width="5" stroke-linecap="round" stroke-linejoin="round" opacity="1" filter="url(#b1_5)"/>
<path d="M559,421 L558,424.3 L553.5,436.6 L547.4,448.9 L540,458" fill="none" stroke="#9e6b00" stroke-width="10" stroke-linecap="round" stroke-linejoin="round" opacity="1" filter="url(#b2_2)"/>
<path d="M557.5,426 L553.5,436.6 L548,447 L542,456" fill="none" stroke="#806b00" stroke-width="4.5" stroke-linecap="round" stroke-linejoin="round" opacity="1" filter="url(#b1_2)"/>
<path d="M556,430 L553,438 L548.5,446" fill="none" stroke="#735c00" stroke-width="2.6" stroke-linecap="round" stroke-linejoin="round" opacity="1" filter="url(#b0_8)"/>
<ellipse cx="552" cy="404.5" rx="2.5" ry="2.5" fill="#996b00" opacity="1" filter="url(#b1_2)"/>
<path d="M567.3,415 L559.7,422.8" fill="none" stroke="#9e6b00" stroke-width="5" stroke-linecap="round" stroke-linejoin="round" opacity="1" filter="url(#b1_8)"/>
<path d="M575,409 L590,408" fill="none" stroke="#bd3e00" stroke-width="4" stroke-linecap="round" stroke-linejoin="round" opacity="1" filter="url(#b2)"/>
<path d="M526.8,444.5 L525.7,449.9 L518.7,457.2 L511.2,471 L507.1,486.6 L507,498.1 L507.8,506.1 L511.7,519.8 L518.4,532.1 L524.8,546.2 L537.3,560.2 L547.2,574.4 L564.3,587.1 L569.9,595.5 L565.3,593 L565.2,601.8 L564.4,611.6 L564.2,620.6 L562.9,631.5 L559.2,645 L559.2,660.3 L558.1,673.2 L557.1,684.1 L556.1,695.1 L557.1,704.8 L578.9,707.2 L581.9,698.9 L584.9,687.9 L585.9,676.8 L588.8,665.7 L593.8,655 L599.1,646.1 L607,634.6 L612.4,621 L614.8,608.2 L617.3,594.6 L611.5,569.5 L589.7,554.9 L573.8,543.2 L561.5,535 L549.2,526.4 L543.6,517.9 L536.9,507.8 L532.8,498.9 L532,495.9 L530.9,489.4 L532.8,479 L537.3,470.8 L546.3,462.1 L549.2,449.5Z" fill="#c23600" stroke="#c23600" stroke-width="1" stroke-linejoin="round" filter="url(#b3_5)"/>
<path d="M530.7,445.4 L529.1,451.9 L522,459.6 L515,472.4 L511.1,487.1 L511,497.8 L511.6,505 L515.3,518.1 L521.9,530.2 L527.9,543.7 L540.1,557.4 L549.8,571.4 L566.8,584 L573.3,593.4 L569.3,593.1 L569.2,602.3 L568.3,612.4 L568,621.8 L566.6,633 L563.1,646.1 L563.2,661.1 L562.1,673.7 L561,685.1 L581,686.9 L581.9,676.3 L584.8,664.9 L589.9,653.9 L595.4,644.6 L603.2,633.4 L608.5,620.2 L610.8,607.7 L613.3,594.5 L608.1,571.6 L587.2,558 L571.2,546.2 L558.7,537.8 L546.1,528.9 L540.1,519.8 L533.3,509.5 L529,500 L528,496.2 L526.9,488.9 L529,477.6 L534,468.4 L542.9,460.1 L545.3,448.6Z" fill="#954000" stroke="#954000" stroke-width="1" stroke-linejoin="round" filter="url(#b1_3)"/>
<path d="M536.5,446.7 L534.3,455 L526.8,463.1 L520.6,474.5 L517.1,487.6 L520.9,488.4 L523.4,475.5 L529.2,464.9 L537.7,457 L539.5,447.3Z" fill="#755c00" stroke="#755c00" stroke-width="1" stroke-linejoin="round" filter="url(#b0_9)"/>
<path d="M516.8,503.8 L520,515.8 L526.4,527.6 L532,540.4 L543.7,553.6 L553.2,567.4 L570.1,579.9 L577.8,590.6 L574.6,593.3 L574.4,603 L573.4,613.4 L573,623.5 L571.5,634.9 L568.1,647.6 L568.3,662 L567.3,674.2 L576.7,675.8 L579.7,664 L584.9,652.4 L590.5,642.7 L598.2,631.7 L603.4,619.2 L605.6,607 L608,594.3 L603.6,574.4 L583.9,562.1 L567.8,550.2 L555.1,541.6 L542,532.2 L535.6,522.4 L528.6,511.8 L523.8,501.2Z" fill="#755c00" stroke="#755c00" stroke-width="1" stroke-linejoin="round" filter="url(#b1_0)"/>
<path d="M529.2,525.9 L534.5,538.4 L545.9,551.2 L555.3,564.9 L572.1,577.3 L580.5,588.9 L577.8,593.4 L577.6,603.4 L576.6,614 L576.1,624.5 L574.5,636.2 L571.2,648.5 L571.5,662.5 L576.5,663.5 L581.8,651.5 L587.5,641.4 L595.1,630.7 L600.2,618.6 L602.4,606.6 L604.8,594.2 L600.9,576.1 L581.9,564.7 L565.7,552.7 L552.9,544 L539.5,534.2 L532.8,524.1Z" fill="#695c00" stroke="#695c00" stroke-width="1" stroke-linejoin="round" filter="url(#b1_4)"/>
<path d="M525.3,521 L527.2,526.5 L532.5,539.2 L544,552.4 L555.3,565.9 L572.8,578.2 L578.9,587.3 L580.7,595.1 L582.7,604.1 L578.6,614.1 L577.1,624.3 L574.6,636.1 L570.5,648.5 L569,659.4 L569,668.7 L574,669.3 L576,660.6 L578.9,651.5 L585.4,641.5 L594.9,630.9 L598,618.5 L599.7,605.9 L600.5,592.5 L597.7,577.7 L585.2,563.8 L566.3,551.7 L552.8,542.8 L539.5,533.4 L532.4,523.5 L528.7,519Z" fill="#543300" stroke="#543300" stroke-width="1" stroke-linejoin="round" filter="url(#b1_5)"/>
<path d="M528.9,525.5 L534.1,537.9 L545.4,550.9 L556.5,564.4 L574.1,576.7 L580.7,586.4 L582.7,594.8 L584.7,604.3 L580.5,614.5 L579,625 L576.4,637 L572.3,649.2 L571,659.8 L571,668.9 L572,669.1 L574,660.2 L577.1,650.8 L583.6,640.6 L593,630.2 L596.1,618.1 L597.7,605.7 L598.5,592.8 L595.9,578.6 L583.9,565.3 L565.1,553.2 L551.4,544.3 L537.9,534.7 L530.7,524.5Z" fill="#423300" stroke="#423300" stroke-width="1" stroke-linejoin="round" filter="url(#b1_5)"/>
<path d="M547.4,548.7 L558.4,562 L576.1,574.4 L583.4,585 L585.6,594.4 L587.7,604.6 L583.4,615.2 L581.8,626 L579.1,638.3 L580.9,639.3 L590.2,629.2 L593.2,617.4 L594.7,605.4 L595.6,593.2 L593.2,580 L581.9,567.6 L563.2,555.6 L549.4,546.5Z" fill="#373300" stroke="#373300" stroke-width="1" stroke-linejoin="round" filter="url(#b1_8)"/>
<ellipse cx="562" cy="561" rx="6" ry="3.5" fill="#1f3300" opacity="1" transform="rotate(35 562 561)" filter="url(#b2)"/>
<ellipse cx="590.5" cy="606" rx="3.5" ry="6" fill="#1f3300" opacity="1" filter="url(#b2)"/>
<ellipse cx="584" cy="630" rx="3" ry="4" fill="#213300" opacity="1" transform="rotate(15 584 630)" filter="url(#b1_8)"/>
</g>
</g>
<path class="coast" d="M80,40 L137,40 L137.1,45.5 L158.6,49.2 L177,52.3 L189.3,49.2 L210.8,46.8 L232.3,47.7 L247.7,46.4 L284.5,46.4 L287.6,47.7 L299.9,53.8 L302.9,58.4 L321.3,59 L342.8,60 L345.9,64.6 L349,58.4 L364.3,56.9 L388,59 L395.4,58.1 L400,56.6 L404.6,59.2 L413,58.4 L416.1,61.5 L419.2,60 L419.9,56.9 L426.1,54.6 L429.9,51.5 L429.1,48.4 L432.2,46.4 L432.2,41.5 L436,41.5 L436,46.1 L441.4,48.4 L447.6,51.5 L449.9,55.4 L453.7,50 L459.8,50.7 L463.7,55.4 L462.9,58.4 L468.3,62.3 L472.1,60 L475.2,56.1 L481.3,52.3 L484.4,49.5 L479.8,46.9 L479,41.5 L501.3,41.5 L499.8,49.2 L504.4,51.5 L498.2,55.4 L502.8,58.4 L504.4,63 L496.7,66.1 L490.5,66.9 L487.5,69.2 L485.9,66.1 L478.3,66.9 L472.9,69.9 L469.8,75.3 L466,79.2 L456.8,82.2 L447.6,84.5 L430.7,81.5 L444.5,86.1 L441.4,88.4 L436.8,90.7 L430.7,95.3 L425.3,99.1 L422.9,104.7 L424.1,111.8 L432.4,115.3 L435.9,123.6 L450,122.4 L464.1,128.3 L478.3,134.2 L497.1,135.3 L499.5,145.9 L504.2,153 L508.9,158.9 L519.5,157.7 L520.6,150.6 L515.9,141.2 L525.3,135.3 L533.6,128.3 L530.1,118.9 L520.6,114.2 L527.7,107.1 L525.3,100 L524.2,93 L530.1,90.6 L541.8,90.6 L556,94.1 L565.4,98.9 L574.8,102.4 L577.1,108.3 L572.4,114.2 L579.5,117.7 L588.9,114.2 L598.3,110.6 L605.4,104.7 L610.1,108.3 L617.2,117.7 L621.9,127.1 L631.3,133 L638.5,136.2 L648.5,138.8 L651,143.8 L658.5,146.2 L659.8,153.8 L651,158.8 L641,162.5 L626,165 L613.5,166.2 L601,168.8 L591,172.5 L576,177.5 L567,185 L576,183 L586,177.5 L596,173.8 L607.2,173.8 L603.5,178.8 L597.2,180 L602.2,183.8 L605.5,190 L611,192 L618.5,191.5 L626,189.5 L629.8,184.5 L635.2,190 L627.2,195.5 L613.5,200.5 L601,206.2 L597.2,202.5 L603.5,198 L608,195.5 L602.2,195.5 L594.8,198 L586,200.5 L576,203.8 L567,215 L557,220 L547,223.8 L540.8,230 L539.5,240 L537,250 L540.2,253.8 L529,260 L519,266.2 L510.2,273.8 L504,282.5 L504,290 L507.8,298.8 L511.5,307.5 L510.2,316.2 L504,320 L500.2,312.5 L496.5,302.5 L495.2,295 L487.8,288.8 L481.5,287.5 L474,283.8 L461.5,285 L454,287.5 L463.8,284.5 L455,288.8 L447.5,291.2 L435,288.8 L422.5,290 L412.5,296.2 L406.2,305 L408,315 L405,322.5 L405,332.5 L408.8,342.5 L415,352.5 L425,358.8 L437.5,357.5 L446.2,353.8 L450,342.5 L455,340 L465,338.8 L471.2,341.2 L471,341.2 L469,348.8 L465.2,355 L461.5,362.5 L459,370 L458.5,373.8 L474,374.5 L486.5,375 L492.8,380 L491.5,390 L489,400 L491.5,407.5 L497.8,413.8 L506.5,416.2 L514,412.5 L521.5,415 L526.5,420 L529,423.8 L532.8,417.5 L539,407.5 L547.8,402.5 L556.5,400 L564,395 L565.2,400 L564,403.8 L571.5,402.5 L576.5,400 L586.5,405 L596.5,406.2 L606.5,405 L616.5,405 L626.5,411.2 L634,417.5 L644,425 L649.3,432.2 L666.9,435.1 L678.6,438.1 L687.3,445.4 L691.7,458.6 L694.7,463 L688.8,470.3 L685.9,480.5 L699.1,482 L704.9,473.2 L713.7,474.7 L722.5,479.1 L729.8,484.9 L743,487.3 L757.6,487.8 L769.3,493.7 L781.1,501 L785.4,508.3 L785.4,520.1 L778.1,531.8 L769.3,543.5 L762,550.8 L760.6,566.9 L757.6,584.5 L753.2,596.2 L743,606.4 L732.7,609.4 L716.6,616.7 L704.9,626.9 L702,637.2 L696.1,647.4 L692.5,651.2 L686.2,660 L680,665 L675,673.8 L667.5,680 L655,681.2 L642.5,677.5 L650,686.2 L652.5,691.2 L654.5,691.5 L648.6,697.3 L639.8,701.7 L629.6,704.6 L619.3,706.1 L620,712 L617.8,717.1 L609.1,717.1 L603.2,717.8 L602.5,720.7 L603.9,725.9 L606.1,729.5 L603.2,732.5 L602.5,736.9 L598.8,741.2 L591.5,744.2 L587.8,749.3 L590.8,753 L597.3,754.4 L598.8,758.8 L594.4,763.2 L588.6,767.6 L586.4,772 L581.2,774.9 L577.6,779.3 L576.9,783.7 L579,786.6 L581.2,788.8 L587.1,792.5 L594.4,798.3 L601.7,802 L593,802.7 L582.7,801.3 L575.4,799.1 L570.3,795.4 L568.8,791 L565.1,789.6 L557.8,785.2 L552,782.2 L549,777.8 L547.6,772 L550.5,766.1 L547.6,760.3 L547.6,754.4 L550.5,751.5 L553.4,745.6 L556.4,733.9 L557.8,722.2 L549.8,719.3 L550.5,704.6 L552,690 L561.2,675 L562.5,660 L563.8,645 L567.5,630 L569,625 L570.2,610 L571.5,595 L570.2,582.5 L564,575 L554,567.5 L541.5,558.8 L535.2,552.5 L529,540 L522.8,527.5 L515.2,515 L507.8,505 L505.2,496.2 L510.2,486.2 L507.8,477.5 L510.2,470 L516.5,462.5 L527.8,450 L530.2,440 L529,445 L526.5,437.5 L527.8,430 L525.2,422.5 L520.2,416.2 L515.2,417.5 L510.2,422.5 L504,425 L496.5,421.2 L486.5,415 L479,408.8 L471.5,400 L464,391.2 L447.5,383.8 L437.5,377.5 L425,371.2 L415,375 L405,371.2 L390,366.2 L375,360 L365,352.5 L358.8,346.2 L360,340 L355,330 L347.5,322.5 L337.5,313.8 L330,305 L320,295 L312.5,280 L305,276.2 L301.2,277.5 L310,291.2 L317.5,302.5 L325,315 L330,322.5 L333.8,327.5 L331.2,330 L326.2,323.8 L318.8,318.8 L317.5,312.5 L310,302.5 L302.5,301.2 L301.2,295 L295,285 L287.5,272.5 L280,263.8 L267.5,260 L260,251.2 L255,240 L247.5,230 L242.5,212.5 L245.5,204.9 L246.4,195.5 L244.6,184.5 L244.2,177.1 L249.2,179.9 L253.8,181.7 L254.7,175.3 L252,170.7 L244.6,167 L235.4,162.4 L225.3,158.7 L222.5,155.9 L215.1,149.5 L205.9,144 L198.5,135.7 L193.9,138.4 L189.3,135.7 L182,129.2 L174.6,122.8 L167.2,115.4 L159.8,109.9 L151.6,108.9 L143.3,107.5 L134.1,106.2 L124.8,104.9 L117.5,103.4 L111,102.5 L106.4,100.1 L100.9,99.4 L97.2,100.7 L95.4,104.3 L88,106.7 L69.6,106.7 L69.6,29.7ZM287.6,40 L287.6,46.8 L309.1,50.7 L327.5,53.8 L342.8,52.3 L355.1,49.2 L376.6,47.7 L388,49.2 L330,50.7 L342.3,49.2 L357.6,47.7 L373,46.8 L379.1,40ZM394.6,51.5 L401.5,47.7 L410.7,46.9 L418.4,47.4 L420.7,50.7 L426.1,49.2 L429.1,48.4 L428.4,52.3 L423,54.6 L418.4,56.1 L416.8,60.7 L414.5,56.9 L406.1,55.4 L400,54.6 L395.4,53.1ZM469.1,84.5 L473.7,79.9 L476,70.7 L479.8,69.9 L485.9,74.5 L493.6,76.1 L502.8,80.7 L510.5,83 L505.9,84.5 L496.7,83 L487.5,84.5 L481.3,86.1 L476.7,83.8ZM489.8,92.2 L493.6,89.1 L499.8,88.8 L496.7,91.4 L492.1,93.4ZM510.5,93.7 L513.6,91.4 L516.3,93 L513.6,96ZM532.4,42.4 L532.4,45.2 L541.8,49.4 L553.6,54.1 L558.3,61.2 L548.9,65.9 L546.5,70.6 L537.1,73 L524.2,75.3 L534.8,78.8 L541.8,77.7 L551.2,79.5 L563,84.7 L574.8,89.4 L586.6,93 L597.1,93.7 L588.9,88.3 L579.5,83.5 L588.9,85.9 L598.3,89.4 L606.6,87.1 L605.4,81.2 L596,75.3 L588.9,70.6 L586.6,67.1 L596,69.4 L610.1,75.3 L617.2,70.6 L625.4,64.7 L614.8,61.2 L598.3,55.3 L586.6,52.9 L583,48.2 L593.6,47.1 L588.9,42.4ZM528.9,57.7 L534.8,55.3 L541.8,57.7 L538.3,62.4 L531.2,61.7ZM692.1,40 L691.3,45.9 L686.2,50.1 L681.2,54.3 L674.5,56.8 L671.9,61.8 L674.5,68.5 L681.2,71.9 L682.9,78.6 L687.1,82 L692.1,88.7 L698,93.7 L704.7,97.9 L711.4,99.6 L723.1,103 L731.5,106.3 L736.6,103.8 L739.9,100.4 L742.5,93.7 L739.9,88.7 L746.6,83.6 L751.7,77.8 L756.7,73.6 L766.8,69.4 L776.9,68.5 L786.9,65.2 L797,59.3 L802,56.8 L822.2,55.9 L822.2,40ZM666,46.2 L681,47 L676,49.5 L668.5,48.8ZM638.5,177.5 L646,170 L651,162.5 L656,157.5 L659.8,156.2 L658.5,165 L663.5,170 L672.2,170 L673.5,176.2 L678.5,181.2 L676,187.5 L672.2,185 L668.5,180 L661,185 L656,182.5 L648.5,181.2 L638.5,180ZM608.5,167.5 L616,167.5 L622.2,170.5 L613.5,170ZM608.5,188 L616,186.5 L622.2,188 L616,189.5ZM482.8,337.5 L491.5,331.2 L504,330 L516.5,333.8 L529,340 L541.5,343.8 L546.5,347 L539,348.8 L529,349.5 L525.2,345 L515.2,340 L504,336.2 L494,335 L485.2,337.5ZM522,358.8 L529,357.5 L534.5,360 L529,361.8 L522.8,360.5ZM546.5,358 L556.5,357.5 L552.8,353.8 L554,349.5 L564,349.5 L574,351.2 L582.8,357.5 L576.5,360 L567.8,358.8 L565.2,362.5 L560.2,358.8 L552.8,359.5 L546.5,359ZM589.8,357.5 L598.5,357.5 L598.5,360 L590.2,360ZM522.8,317.5 L526.5,317.5 L527.2,325 L524,322.5ZM622.8,405 L627.8,404.5 L627,408.8 L622.8,408ZM626.6,783.7 L632.5,781.5 L641.3,780.8 L647.9,782.2 L644.2,785.2 L638.3,786.6 L632.5,785.9ZM190.2,142.1 L196.7,141.2 L198.5,147.6 L201.3,153.2 L196.7,149.5 L193,145.8Z"/>
<path class="lake" d="M238,68.8 L250.5,65 L263,66.2 L273,63.8 L285.5,66.2 L280.5,72.5 L270.5,71.2 L265.5,77.5 L253,75 L250.5,70 L240.5,70ZM278,97.5 L288,96.2 L298,93.8 L293,87.5 L305.5,91.2 L320.5,90 L332,88.8 L335.5,91.2 L323,93.8 L310.5,96.2 L300.5,100 L288,101.2ZM332,107.5 L352,110 L339.5,111.2 L332,111.2ZM373.2,127.5 L377,118.8 L381.5,118.8 L379.5,123.8 L374.5,128ZM397.1,143.9 L401.4,140.2 L404.6,141.7 L405.2,148.1 L409.9,154.5 L413.2,157.8 L413.8,162 L411.7,164.2 L407.8,159.9 L402.5,153.5 L398.2,148.1ZM384.7,148.1 L389.6,147.5 L392.8,151.3 L395,156.7 L400.3,161 L402.5,164.2 L399.3,165.2 L395,161 L390.7,156 L387.5,151.3ZM420.2,170.2 L422.8,168.4 L426.6,170.2 L425.3,172.7 L421.7,172.7ZM431.3,174.2 L434.5,173.8 L436.7,175.5 L433,175.9ZM439.5,185.6 L444.2,182.4 L453.8,178.1 L461.3,173.8 L465.6,172.7 L474.1,174.4 L480.5,180.2 L484.8,184.5 L485.9,187.7 L480.5,188.8 L474.1,186.6 L468.8,185.6 L464.5,181.3 L459.1,182.4 L452.7,185.6 L446.3,187.7 L441,186.6ZM469.8,192 L465.6,199.5 L465.1,207 L466.6,214.4 L469.8,217.2 L474.1,214.4 L476.3,207 L477.3,199.5 L480.5,193 L482.7,190.9 L477.3,190.9ZM485.9,188.8 L495.5,189.8 L503,190.9 L510.5,194.1 L513.7,198.4 L508.3,200.5 L504.1,202.7 L501.9,207 L496.6,208 L492.3,204.8 L489.1,203.7 L491.2,199.5 L493.4,194.1 L488,192ZM491.7,215.5 L495.5,211.7 L504.1,209.1 L512.6,207 L519,206.5 L518,209.5 L510.5,212.3 L501.9,215.5 L494.4,218.1ZM514.8,205.9 L519,203.7 L527.6,201.6 L537.2,199.5 L537.9,201 L534,204.4 L525.5,207 L516.9,207.6ZM476.5,398 L480.2,397 L482.8,401.2 L479,402.5ZM562,405 L565.2,402.5 L566.5,410 L564,415 L561.5,411.2ZM572,563 L576.5,564 L581,567.5 L577.8,568 L573.5,565.5ZM519.8,308.2 L521.3,307.4 L522.8,308.2 L521.3,309ZM527.5,309.2 L529,308.4 L530.5,309.2 L529,310ZM532.1,316.2 L533.6,315.4 L535.1,316.2 L533.6,317ZM538.2,321.4 L539.7,320.6 L541.2,321.4 L539.7,322.2ZM542.8,326.1 L544.3,325.3 L545.8,326.1 L544.3,326.9ZM546.5,332.2 L548,331.4 L549.5,332.2 L548,333ZM553.6,334.7 L555.1,333.9 L556.6,334.7 L555.1,335.5ZM559.7,337.1 L561.2,336.3 L562.7,337.1 L561.2,337.9ZM603.2,359.2 L604.2,358.2 L605.2,359.2 L604.2,360.2ZM617,363.5 L618,362.5 L619,363.5 L618,364.5ZM623.1,370.6 L624.1,369.6 L625.1,370.6 L624.1,371.6ZM625.3,376.7 L626.3,375.7 L627.3,376.7 L626.3,377.7ZM626.8,382.9 L627.8,381.9 L628.8,382.9 L627.8,383.9ZM626.8,389 L627.8,388 L628.8,389 L627.8,390ZM624.7,396.7 L625.7,395.7 L626.7,396.7 L625.7,397.7ZM627.7,401.3 L628.7,400.3 L629.7,401.3 L628.7,402.3ZM607.8,403.7 L608.8,402.7 L609.8,403.7 L608.8,404.7ZM578.6,395.4 L579.6,394.4 L580.6,395.4 L579.6,396.4ZM581.7,396.1 L582.7,395.1 L583.7,396.1 L582.7,397.1ZM522.8,318.4 L525.9,317.5 L527.1,324.5 L524.3,325.4ZM492.1,337.7 L495.8,337.1 L495.8,339.6 L492.7,339.9ZM220.6,161.5 L229.9,160.5 L240.9,165.1 L252,171.6 L246.4,173.4 L235.4,167.9 L224.3,164.2ZM546.8,732.5 L549,724.4 L553.4,722.9 L557.1,723.7 L555.6,729.5 L552,733.2 L547.6,733.2ZM539.5,753 L543.2,748.6 L547.6,750 L546.8,753.7 L541.7,754.4ZM604.7,727.3 L609.1,725.1 L612,727.3 L609.1,730.3 L605.4,729.5ZM506,306.2 L507.2,305 L508.5,306.2 L507.2,307.5ZM686.8,471.7 L691.7,466.8 L696.7,470.3 L703.5,471.7 L699.6,476.7 L698.5,483.5 L696.7,479.1 L690.3,480.5 L686.8,479.1ZM500.6,148.8 L503.7,147.1 L506.5,148.8 L503.7,150.6Z"/>
<path class="lake" d="M169.1,112.6 L176.4,120M174.6,110.8 L183.8,121.8 L191.2,131.1M180.1,118.2 L188.4,128.3M183.8,117.2 L193,127.4 L198.5,134.7M196.7,128.3 L205.9,138.4M205.9,138.4 L211.4,145.8M99.1,105.3 L105.5,103.1M252.9,177.1 L254.7,180.8 L252,183.6M547.6,740.5 L549,744.2M552,739.8 L556.4,741.2 L553.4,745.6M541,761.7 L543.9,766.1 L541.7,772M544.6,760.3 L549,763.2 L545.4,769.1M540.2,769.1 L541,774.9M543.9,776.4 L547.6,780.8M544.6,783.7 L545.4,785.9M545.4,791 L553.4,794 L559.3,796.1M550.5,785.2 L557.8,791 L565.1,795.4 L572.5,799.1M553.4,783.7 L559.3,788.1 L566.6,792.5M566.6,801.3 L576.9,802.7 L585.6,804.9M573.9,803.5 L581.2,805.7 L585.6,807.1M568.8,791 L573.9,792.5 L578.3,787.4M606.1,802 L611.3,801.7M569.5,795.4 L573.9,794.7 L572.5,797.6 L576.9,798.3M539,255 L535.2,245 L533.5,232.5M537.8,250 L540.2,245 L537.8,237.5M541.5,236.2 L539.5,230.5M547.8,222.5 L564,218.8 L572.8,216.2 L564,221.2 L549,223.8 L547.8,222.5M529,260 L534,257 L536.5,252.5M566.5,217.5 L571.5,213.8 L573.5,217.5M552.8,197.5 L553.5,202.5M147.7,522.8 L148.9,522.8M155.1,528.7 L156.3,528.7M110,557.1 L111.2,557.1M113.8,575.4 L115,575.4M90.5,576.9 L91.7,576.9M117,590.1 L118.2,590.1M145.7,566.4 L146.9,566.4M145,588.6 L146.2,588.6M143.4,601.4 L144.6,601.4M173.7,600.2 L174.9,600.2M164.4,610 L165.6,610M206.8,621.3 L208,621.3M239.1,619.3 L240.3,619.3M332.8,633.7 L334,633.7M441.7,469.7 L443.7,470.9M444.1,473.6 L446.1,474.8M447.9,472.1 L449.9,473.3M453.8,474 L455.8,475.2M808,230.5 L809.5,230.5M604.7,273.7 L606,273.7M438.5,378.8 L440.4,373.3 L448.7,371.9 L449.6,369.6 L443.6,365.5 L445.5,361.8 L455.1,361.3 L459.7,359.5 L462.9,356.2 L464.3,359.9 L462.5,366.4M512.4,129 L514.8,127.1 L515.9,130.6 L518.3,127.6M513.1,130.6 L517.1,129.5"/>

</g>
<g><rect x="845" y="821.58" width="43" height="4.02" fill="rgb(0,0,2)"/><rect x="845" y="818.56" width="43" height="4.02" fill="rgb(0,1,4)"/><rect x="845" y="815.54" width="43" height="4.02" fill="rgb(0,1,5)"/><rect x="845" y="812.52" width="43" height="4.02" fill="rgb(0,1,7)"/><rect x="845" y="809.50" width="43" height="4.02" fill="rgb(0,2,9)"/><rect x="845" y="806.48" width="43" height="4.02" fill="rgb(0,2,10)"/><rect x="845" y="803.46" width="43" height="4.02" fill="rgb(0,2,12)"/><rect x="845" y="800.44" width="43" height="4.02" fill="rgb(0,3,13)"/><rect x="845" y="797.42" width="43" height="4.02" fill="rgb(0,3,15)"/><rect x="845" y="794.40" width="43" height="4.02" fill="rgb(0,3,16)"/><rect x="845" y="791.38" width="43" height="4.02" fill="rgb(0,4,18)"/><rect x="845" y="788.36" width="43" height="4.02" fill="rgb(0,4,20)"/><rect x="845" y="785.34" width="43" height="4.02" fill="rgb(0,4,21)"/><rect x="845" y="782.32" width="43" height="4.02" fill="rgb(0,5,23)"/><rect x="845" y="779.30" width="43" height="4.02" fill="rgb(0,5,24)"/><rect x="845" y="776.28" width="43" height="4.02" fill="rgb(0,5,26)"/><rect x="845" y="773.26" width="43" height="4.02" fill="rgb(0,5,27)"/><rect x="845" y="770.24" width="43" height="4.02" fill="rgb(0,6,29)"/><rect x="845" y="767.22" width="43" height="4.02" fill="rgb(0,6,30)"/><rect x="845" y="764.20" width="43" height="4.02" fill="rgb(0,6,32)"/><rect x="845" y="761.18" width="43" height="4.02" fill="rgb(0,7,34)"/><rect x="845" y="758.16" width="43" height="4.02" fill="rgb(0,7,35)"/><rect x="845" y="755.14" width="43" height="4.02" fill="rgb(0,7,37)"/><rect x="845" y="752.12" width="43" height="4.02" fill="rgb(0,8,38)"/><rect x="845" y="749.10" width="43" height="4.02" fill="rgb(0,8,40)"/><rect x="845" y="746.08" width="43" height="4.02" fill="rgb(0,8,41)"/><rect x="845" y="743.06" width="43" height="4.02" fill="rgb(0,9,43)"/><rect x="845" y="740.04" width="43" height="4.02" fill="rgb(0,9,45)"/><rect x="845" y="737.02" width="43" height="4.02" fill="rgb(0,9,46)"/><rect x="845" y="734.00" width="43" height="4.02" fill="rgb(0,10,48)"/><rect x="845" y="730.98" width="43" height="4.02" fill="rgb(0,10,49)"/><rect x="845" y="727.96" width="43" height="4.02" fill="rgb(0,12,52)"/><rect x="845" y="724.94" width="43" height="4.02" fill="rgb(0,17,57)"/><rect x="845" y="721.92" width="43" height="4.02" fill="rgb(0,21,62)"/><rect x="845" y="718.90" width="43" height="4.02" fill="rgb(0,25,66)"/><rect x="845" y="715.88" width="43" height="4.02" fill="rgb(0,30,71)"/><rect x="845" y="712.86" width="43" height="4.02" fill="rgb(0,34,76)"/><rect x="845" y="709.84" width="43" height="4.02" fill="rgb(0,38,80)"/><rect x="845" y="706.82" width="43" height="4.02" fill="rgb(0,43,85)"/><rect x="845" y="703.80" width="43" height="4.02" fill="rgb(0,47,90)"/><rect x="845" y="700.78" width="43" height="4.02" fill="rgb(0,52,95)"/><rect x="845" y="697.76" width="43" height="4.02" fill="rgb(0,56,99)"/><rect x="845" y="694.74" width="43" height="4.02" fill="rgb(0,60,104)"/><rect x="845" y="691.72" width="43" height="4.02" fill="rgb(0,65,109)"/><rect x="845" y="688.70" width="43" height="4.02" fill="rgb(0,69,113)"/><rect x="845" y="685.68" width="43" height="4.02" fill="rgb(0,73,118)"/><rect x="845" y="682.66" width="43" height="4.02" fill="rgb(0,78,123)"/><rect x="845" y="679.64" width="43" height="4.02" fill="rgb(0,82,127)"/><rect x="845" y="676.62" width="43" height="4.02" fill="rgb(0,87,132)"/><rect x="845" y="673.60" width="43" height="4.02" fill="rgb(0,91,137)"/><rect x="845" y="670.58" width="43" height="4.02" fill="rgb(0,95,141)"/><rect x="845" y="667.56" width="43" height="4.02" fill="rgb(0,100,146)"/><rect x="845" y="664.54" width="43" height="4.02" fill="rgb(0,104,151)"/><rect x="845" y="661.52" width="43" height="4.02" fill="rgb(0,108,155)"/><rect x="845" y="658.50" width="43" height="4.02" fill="rgb(0,113,160)"/><rect x="845" y="655.48" width="43" height="4.02" fill="rgb(0,117,165)"/><rect x="845" y="652.46" width="43" height="4.02" fill="rgb(0,122,170)"/><rect x="845" y="649.44" width="43" height="4.02" fill="rgb(0,126,174)"/><rect x="845" y="646.42" width="43" height="4.02" fill="rgb(0,130,179)"/><rect x="845" y="643.40" width="43" height="4.02" fill="rgb(0,135,184)"/><rect x="845" y="640.38" width="43" height="4.02" fill="rgb(0,139,188)"/><rect x="845" y="637.36" width="43" height="4.02" fill="rgb(0,143,193)"/><rect x="845" y="634.34" width="43" height="4.02" fill="rgb(0,148,198)"/><rect x="845" y="631.32" width="43" height="4.02" fill="rgb(3,151,200)"/><rect x="845" y="628.30" width="43" height="4.02" fill="rgb(8,154,198)"/><rect x="845" y="625.28" width="43" height="4.02" fill="rgb(13,157,198)"/><rect x="845" y="622.26" width="43" height="4.02" fill="rgb(19,160,196)"/><rect x="845" y="619.24" width="43" height="4.02" fill="rgb(24,163,196)"/><rect x="845" y="616.22" width="43" height="4.02" fill="rgb(30,166,194)"/><rect x="845" y="613.20" width="43" height="4.02" fill="rgb(35,169,194)"/><rect x="845" y="610.18" width="43" height="4.02" fill="rgb(40,172,192)"/><rect x="845" y="607.16" width="43" height="4.02" fill="rgb(46,175,192)"/><rect x="845" y="604.14" width="43" height="4.02" fill="rgb(51,178,190)"/><rect x="845" y="601.12" width="43" height="4.02" fill="rgb(56,181,190)"/><rect x="845" y="598.10" width="43" height="4.02" fill="rgb(62,184,188)"/><rect x="845" y="595.08" width="43" height="4.02" fill="rgb(67,187,188)"/><rect x="845" y="592.06" width="43" height="4.02" fill="rgb(73,190,186)"/><rect x="845" y="589.04" width="43" height="4.02" fill="rgb(78,193,186)"/><rect x="845" y="586.02" width="43" height="4.02" fill="rgb(83,196,184)"/><rect x="845" y="583.00" width="43" height="4.02" fill="rgb(89,198,184)"/><rect x="845" y="579.98" width="43" height="4.02" fill="rgb(94,202,182)"/><rect x="845" y="576.96" width="43" height="4.02" fill="rgb(99,204,182)"/><rect x="845" y="573.94" width="43" height="4.02" fill="rgb(105,208,180)"/><rect x="845" y="570.92" width="43" height="4.02" fill="rgb(110,210,180)"/><rect x="845" y="567.90" width="43" height="4.02" fill="rgb(116,214,178)"/><rect x="845" y="564.88" width="43" height="4.02" fill="rgb(121,216,178)"/><rect x="845" y="561.86" width="43" height="4.02" fill="rgb(126,220,176)"/><rect x="845" y="558.84" width="43" height="4.02" fill="rgb(132,222,176)"/><rect x="845" y="555.82" width="43" height="4.02" fill="rgb(137,226,174)"/><rect x="845" y="552.80" width="43" height="4.02" fill="rgb(142,228,174)"/><rect x="845" y="549.78" width="43" height="4.02" fill="rgb(148,232,172)"/><rect x="845" y="546.76" width="43" height="4.02" fill="rgb(153,234,172)"/><rect x="845" y="543.74" width="43" height="4.02" fill="rgb(159,238,170)"/><rect x="845" y="540.72" width="43" height="4.02" fill="rgb(164,240,170)"/><rect x="845" y="537.70" width="43" height="4.02" fill="rgb(169,244,168)"/><rect x="845" y="534.68" width="43" height="4.02" fill="rgb(173,245,169)"/><rect x="845" y="531.66" width="43" height="4.02" fill="rgb(176,245,172)"/><rect x="845" y="528.64" width="43" height="4.02" fill="rgb(178,246,175)"/><rect x="845" y="525.62" width="43" height="4.02" fill="rgb(181,246,177)"/><rect x="845" y="522.60" width="43" height="4.02" fill="rgb(183,246,180)"/><rect x="845" y="519.58" width="43" height="4.02" fill="rgb(185,247,183)"/><rect x="845" y="516.56" width="43" height="4.02" fill="rgb(188,247,185)"/><rect x="845" y="513.54" width="43" height="4.02" fill="rgb(190,247,188)"/><rect x="845" y="510.52" width="43" height="4.02" fill="rgb(193,248,191)"/><rect x="845" y="507.50" width="43" height="4.02" fill="rgb(195,248,194)"/><rect x="845" y="504.48" width="43" height="4.02" fill="rgb(198,248,196)"/><rect x="845" y="501.46" width="43" height="4.02" fill="rgb(200,249,199)"/><rect x="845" y="498.44" width="43" height="4.02" fill="rgb(202,249,202)"/><rect x="845" y="495.42" width="43" height="4.02" fill="rgb(205,249,204)"/><rect x="845" y="492.40" width="43" height="4.02" fill="rgb(207,250,207)"/><rect x="845" y="489.38" width="43" height="4.02" fill="rgb(210,250,210)"/><rect x="845" y="486.36" width="43" height="4.02" fill="rgb(212,250,212)"/><rect x="845" y="483.34" width="43" height="4.02" fill="rgb(215,250,215)"/><rect x="845" y="480.32" width="43" height="4.02" fill="rgb(217,251,218)"/><rect x="845" y="477.30" width="43" height="4.02" fill="rgb(220,251,221)"/><rect x="845" y="474.28" width="43" height="4.02" fill="rgb(222,251,223)"/><rect x="845" y="471.26" width="43" height="4.02" fill="rgb(224,252,226)"/><rect x="845" y="468.24" width="43" height="4.02" fill="rgb(227,252,229)"/><rect x="845" y="465.22" width="43" height="4.02" fill="rgb(229,252,232)"/><rect x="845" y="462.20" width="43" height="4.02" fill="rgb(232,253,234)"/><rect x="845" y="459.18" width="43" height="4.02" fill="rgb(234,253,237)"/><rect x="845" y="456.16" width="43" height="4.02" fill="rgb(237,253,240)"/><rect x="845" y="453.14" width="43" height="4.02" fill="rgb(239,254,243)"/><rect x="845" y="450.12" width="43" height="4.02" fill="rgb(241,254,245)"/><rect x="845" y="447.10" width="43" height="4.02" fill="rgb(244,254,248)"/><rect x="845" y="444.08" width="43" height="4.02" fill="rgb(246,255,251)"/><rect x="845" y="441.06" width="43" height="4.02" fill="rgb(249,255,254)"/><rect x="845" y="438.04" width="43" height="4.02" fill="rgb(73,119,50)"/><rect x="845" y="435.02" width="43" height="4.02" fill="rgb(79,116,50)"/><rect x="845" y="432.00" width="43" height="4.02" fill="rgb(86,114,50)"/><rect x="845" y="428.98" width="43" height="4.02" fill="rgb(92,111,50)"/><rect x="845" y="425.96" width="43" height="4.02" fill="rgb(98,109,50)"/><rect x="845" y="422.94" width="43" height="4.02" fill="rgb(104,106,50)"/><rect x="845" y="419.92" width="43" height="4.02" fill="rgb(111,104,50)"/><rect x="845" y="416.90" width="43" height="4.02" fill="rgb(117,101,50)"/><rect x="845" y="413.88" width="43" height="4.02" fill="rgb(122,102,51)"/><rect x="845" y="410.86" width="43" height="4.02" fill="rgb(125,105,52)"/><rect x="845" y="407.84" width="43" height="4.02" fill="rgb(128,108,53)"/><rect x="845" y="404.82" width="43" height="4.02" fill="rgb(131,111,54)"/><rect x="845" y="401.80" width="43" height="4.02" fill="rgb(135,115,56)"/><rect x="845" y="398.78" width="43" height="4.02" fill="rgb(138,118,57)"/><rect x="845" y="395.76" width="43" height="4.02" fill="rgb(141,121,58)"/><rect x="845" y="392.74" width="43" height="4.02" fill="rgb(144,124,59)"/><rect x="845" y="389.72" width="43" height="4.02" fill="rgb(148,128,61)"/><rect x="845" y="386.70" width="43" height="4.02" fill="rgb(151,131,62)"/><rect x="845" y="383.68" width="43" height="4.02" fill="rgb(154,134,63)"/><rect x="845" y="380.66" width="43" height="4.02" fill="rgb(157,137,64)"/><rect x="845" y="377.64" width="43" height="4.02" fill="rgb(161,141,66)"/><rect x="845" y="374.62" width="43" height="4.02" fill="rgb(164,144,67)"/><rect x="845" y="371.60" width="43" height="4.02" fill="rgb(167,147,68)"/><rect x="845" y="368.58" width="43" height="4.02" fill="rgb(170,150,69)"/><rect x="845" y="365.56" width="43" height="4.02" fill="rgb(174,154,71)"/><rect x="845" y="362.54" width="43" height="4.02" fill="rgb(177,157,72)"/><rect x="845" y="359.52" width="43" height="4.02" fill="rgb(180,160,73)"/><rect x="845" y="356.50" width="43" height="4.02" fill="rgb(183,163,74)"/><rect x="845" y="353.48" width="43" height="4.02" fill="rgb(187,167,76)"/><rect x="845" y="350.46" width="43" height="4.02" fill="rgb(190,170,77)"/><rect x="845" y="347.44" width="43" height="4.02" fill="rgb(193,173,78)"/><rect x="845" y="344.42" width="43" height="4.02" fill="rgb(196,176,79)"/><rect x="845" y="341.40" width="43" height="4.02" fill="rgb(200,180,81)"/><rect x="845" y="338.38" width="43" height="4.02" fill="rgb(203,183,82)"/><rect x="845" y="335.36" width="43" height="4.02" fill="rgb(206,186,83)"/><rect x="845" y="332.34" width="43" height="4.02" fill="rgb(209,189,84)"/><rect x="845" y="329.32" width="43" height="4.02" fill="rgb(213,193,86)"/><rect x="845" y="326.30" width="43" height="4.02" fill="rgb(216,196,87)"/><rect x="845" y="323.28" width="43" height="4.02" fill="rgb(219,199,88)"/><rect x="845" y="320.26" width="43" height="4.02" fill="rgb(222,202,89)"/><rect x="845" y="317.24" width="43" height="4.02" fill="rgb(226,206,91)"/><rect x="845" y="314.22" width="43" height="4.02" fill="rgb(229,209,92)"/><rect x="845" y="311.20" width="43" height="4.02" fill="rgb(232,212,93)"/><rect x="845" y="308.18" width="43" height="4.02" fill="rgb(235,215,94)"/><rect x="845" y="305.16" width="43" height="4.02" fill="rgb(239,219,96)"/><rect x="845" y="302.14" width="43" height="4.02" fill="rgb(242,222,97)"/><rect x="845" y="299.12" width="43" height="4.02" fill="rgb(245,225,98)"/><rect x="845" y="296.10" width="43" height="4.02" fill="rgb(248,228,99)"/><rect x="845" y="293.08" width="43" height="4.02" fill="rgb(250,230,101)"/><rect x="845" y="290.06" width="43" height="4.02" fill="rgb(250,230,102)"/><rect x="845" y="287.04" width="43" height="4.02" fill="rgb(250,231,104)"/><rect x="845" y="284.02" width="43" height="4.02" fill="rgb(250,231,106)"/><rect x="845" y="281.00" width="43" height="4.02" fill="rgb(250,231,107)"/><rect x="845" y="277.98" width="43" height="4.02" fill="rgb(250,231,109)"/><rect x="845" y="274.96" width="43" height="4.02" fill="rgb(250,232,111)"/><rect x="845" y="271.94" width="43" height="4.02" fill="rgb(250,232,112)"/><rect x="845" y="268.92" width="43" height="4.02" fill="rgb(250,232,114)"/><rect x="845" y="265.90" width="43" height="4.02" fill="rgb(250,232,115)"/><rect x="845" y="262.88" width="43" height="4.02" fill="rgb(250,233,117)"/><rect x="845" y="259.86" width="43" height="4.02" fill="rgb(250,233,119)"/><rect x="845" y="256.84" width="43" height="4.02" fill="rgb(250,233,120)"/><rect x="845" y="253.82" width="43" height="4.02" fill="rgb(250,233,122)"/><rect x="845" y="250.80" width="43" height="4.02" fill="rgb(250,234,124)"/><rect x="845" y="247.78" width="43" height="4.02" fill="rgb(250,234,125)"/><rect x="845" y="244.76" width="43" height="4.02" fill="rgb(250,234,127)"/><rect x="845" y="241.74" width="43" height="4.02" fill="rgb(250,234,128)"/><rect x="845" y="238.72" width="43" height="4.02" fill="rgb(250,235,130)"/><rect x="845" y="235.70" width="43" height="4.02" fill="rgb(250,235,132)"/><rect x="845" y="232.68" width="43" height="4.02" fill="rgb(251,235,133)"/><rect x="845" y="229.66" width="43" height="4.02" fill="rgb(251,235,135)"/><rect x="845" y="226.64" width="43" height="4.02" fill="rgb(251,236,137)"/><rect x="845" y="223.62" width="43" height="4.02" fill="rgb(251,236,138)"/><rect x="845" y="220.60" width="43" height="4.02" fill="rgb(251,236,140)"/><rect x="845" y="217.58" width="43" height="4.02" fill="rgb(251,236,141)"/><rect x="845" y="214.56" width="43" height="4.02" fill="rgb(251,237,143)"/><rect x="845" y="211.54" width="43" height="4.02" fill="rgb(251,237,145)"/><rect x="845" y="208.52" width="43" height="4.02" fill="rgb(252,237,146)"/><rect x="845" y="205.50" width="43" height="4.02" fill="rgb(252,237,148)"/><rect x="845" y="202.48" width="43" height="4.02" fill="rgb(252,238,150)"/><rect x="845" y="199.46" width="43" height="4.02" fill="rgb(252,238,151)"/><rect x="845" y="196.44" width="43" height="4.02" fill="rgb(252,238,153)"/><rect x="845" y="193.42" width="43" height="4.02" fill="rgb(252,238,154)"/><rect x="845" y="190.40" width="43" height="4.02" fill="rgb(252,239,156)"/><rect x="845" y="187.38" width="43" height="4.02" fill="rgb(252,239,157)"/><rect x="845" y="184.36" width="43" height="4.02" fill="rgb(252,239,159)"/><rect x="845" y="181.34" width="43" height="4.02" fill="rgb(252,240,161)"/><rect x="845" y="178.32" width="43" height="4.02" fill="rgb(252,240,162)"/><rect x="845" y="175.30" width="43" height="4.02" fill="rgb(252,240,164)"/><rect x="845" y="172.28" width="43" height="4.02" fill="rgb(252,241,165)"/><rect x="845" y="169.26" width="43" height="4.02" fill="rgb(252,241,167)"/><rect x="845" y="166.24" width="43" height="4.02" fill="rgb(252,241,168)"/><rect x="845" y="163.22" width="43" height="4.02" fill="rgb(252,242,170)"/><rect x="845" y="160.20" width="43" height="4.02" fill="rgb(252,242,172)"/><rect x="845" y="157.18" width="43" height="4.02" fill="rgb(252,242,173)"/><rect x="845" y="154.16" width="43" height="4.02" fill="rgb(252,243,175)"/><rect x="845" y="151.14" width="43" height="4.02" fill="rgb(252,243,176)"/><rect x="845" y="148.12" width="43" height="4.02" fill="rgb(252,243,178)"/><rect x="845" y="145.10" width="43" height="4.02" fill="rgb(252,244,181)"/><rect x="845" y="142.08" width="43" height="4.02" fill="rgb(252,244,183)"/><rect x="845" y="139.06" width="43" height="4.02" fill="rgb(252,244,186)"/><rect x="845" y="136.04" width="43" height="4.02" fill="rgb(252,245,188)"/><rect x="845" y="133.02" width="43" height="4.02" fill="rgb(252,245,190)"/><rect x="845" y="130.00" width="43" height="4.02" fill="rgb(252,245,193)"/><rect x="845" y="126.98" width="43" height="4.02" fill="rgb(252,246,195)"/><rect x="845" y="123.96" width="43" height="4.02" fill="rgb(253,246,198)"/><rect x="845" y="120.94" width="43" height="4.02" fill="rgb(253,247,200)"/><rect x="845" y="117.92" width="43" height="4.02" fill="rgb(253,247,203)"/><rect x="845" y="114.90" width="43" height="4.02" fill="rgb(253,247,205)"/><rect x="845" y="111.88" width="43" height="4.02" fill="rgb(253,248,207)"/><rect x="845" y="108.86" width="43" height="4.02" fill="rgb(253,248,210)"/><rect x="845" y="105.84" width="43" height="4.02" fill="rgb(253,248,212)"/><rect x="845" y="102.82" width="43" height="4.02" fill="rgb(253,249,215)"/><rect x="845" y="99.80" width="43" height="4.02" fill="rgb(253,249,217)"/><rect x="845" y="96.78" width="43" height="4.02" fill="rgb(253,250,220)"/><rect x="845" y="93.76" width="43" height="4.02" fill="rgb(253,250,222)"/><rect x="845" y="90.74" width="43" height="4.02" fill="rgb(253,250,225)"/><rect x="845" y="87.72" width="43" height="4.02" fill="rgb(254,251,227)"/><rect x="845" y="84.70" width="43" height="4.02" fill="rgb(254,251,229)"/><rect x="845" y="81.68" width="43" height="4.02" fill="rgb(254,251,232)"/><rect x="845" y="78.66" width="43" height="4.02" fill="rgb(254,252,234)"/><rect x="845" y="75.64" width="43" height="4.02" fill="rgb(254,252,237)"/><rect x="845" y="72.62" width="43" height="4.02" fill="rgb(254,253,239)"/><rect x="845" y="69.60" width="43" height="4.02" fill="rgb(254,253,242)"/><rect x="845" y="66.58" width="43" height="4.02" fill="rgb(254,253,244)"/><rect x="845" y="63.56" width="43" height="4.02" fill="rgb(255,254,246)"/><rect x="845" y="60.54" width="43" height="4.02" fill="rgb(255,254,249)"/><rect x="845" y="57.52" width="43" height="4.02" fill="rgb(255,254,251)"/><rect x="845" y="55.50" width="43" height="3.02" fill="rgb(255,255,254)"/></g>
<g class="cbl"><text x="978" y="73.9" text-anchor="end">103.750</text><text x="978" y="101.0" text-anchor="end">101.875</text><text x="978" y="128.1" text-anchor="end">100.000</text><text x="978" y="155.3" text-anchor="end">98.125</text><text x="978" y="182.4" text-anchor="end">96.250</text><text x="978" y="209.5" text-anchor="end">94.375</text><text x="978" y="236.6" text-anchor="end">92.500</text><text x="978" y="263.7" text-anchor="end">90.625</text><text x="978" y="290.9" text-anchor="end">88.750</text><text x="978" y="318.0" text-anchor="end">86.875</text><text x="978" y="345.1" text-anchor="end">85.000</text><text x="978" y="372.2" text-anchor="end">83.125</text><text x="978" y="399.3" text-anchor="end">81.250</text><text x="978" y="426.5" text-anchor="end">79.375</text><text x="978" y="453.6" text-anchor="end">77.500</text><text x="978" y="480.7" text-anchor="end">75.625</text><text x="978" y="507.8" text-anchor="end">73.750</text><text x="978" y="534.9" text-anchor="end">71.875</text><text x="978" y="562.1" text-anchor="end">70.000</text><text x="978" y="589.2" text-anchor="end">68.125</text><text x="978" y="616.3" text-anchor="end">66.250</text><text x="978" y="643.4" text-anchor="end">64.375</text><text x="978" y="670.5" text-anchor="end">62.500</text><text x="978" y="697.7" text-anchor="end">60.625</text><text x="978" y="724.8" text-anchor="end">58.750</text><text x="978" y="751.9" text-anchor="end">56.875</text><text x="978" y="779.0" text-anchor="end">55.000</text><text x="978" y="806.1" text-anchor="end">53.125</text></g>
<g stroke="#000" stroke-width="1"><line x1="88.5" y1="833.5" x2="88.5" y2="851.5"/><line x1="270.2" y1="833.5" x2="270.2" y2="851.5"/><line x1="452" y1="833.5" x2="452" y2="851.5"/><line x1="633.7" y1="833.5" x2="633.7" y2="851.5"/><line x1="815.5" y1="833.5" x2="815.5" y2="851.5"/><line x1="70.5" y1="105.9" x2="88.5" y2="105.9"/><line x1="70.5" y1="287.8" x2="88.5" y2="287.8"/><line x1="70.5" y1="469.7" x2="88.5" y2="469.7"/><line x1="70.5" y1="651.6" x2="88.5" y2="651.6"/><line x1="70.5" y1="833.5" x2="88.5" y2="833.5"/></g>
<rect x="88.5" y="45.5" width="727.0" height="788.0" fill="none" stroke="#000" stroke-width="1"/>
<g class="axl"><text x="87.5" y="886.7" text-anchor="middle">150°W</text><text x="269.2" y="886.7" text-anchor="middle">120°W</text><text x="451" y="886.7" text-anchor="middle">90°W</text><text x="632.7" y="886.7" text-anchor="middle">60°W</text><text x="814.5" y="886.7" text-anchor="middle">30°W</text><text x="54.5" y="114.80000000000001" text-anchor="end">60°N</text><text x="54.5" y="296.7" text-anchor="end">30°N</text><text x="54.5" y="478.59999999999997" text-anchor="end">0°</text><text x="54.5" y="660.5" text-anchor="end">30°S</text><text x="54.5" y="842.4" text-anchor="end">60°S</text></g>
</svg>
</body></html>
